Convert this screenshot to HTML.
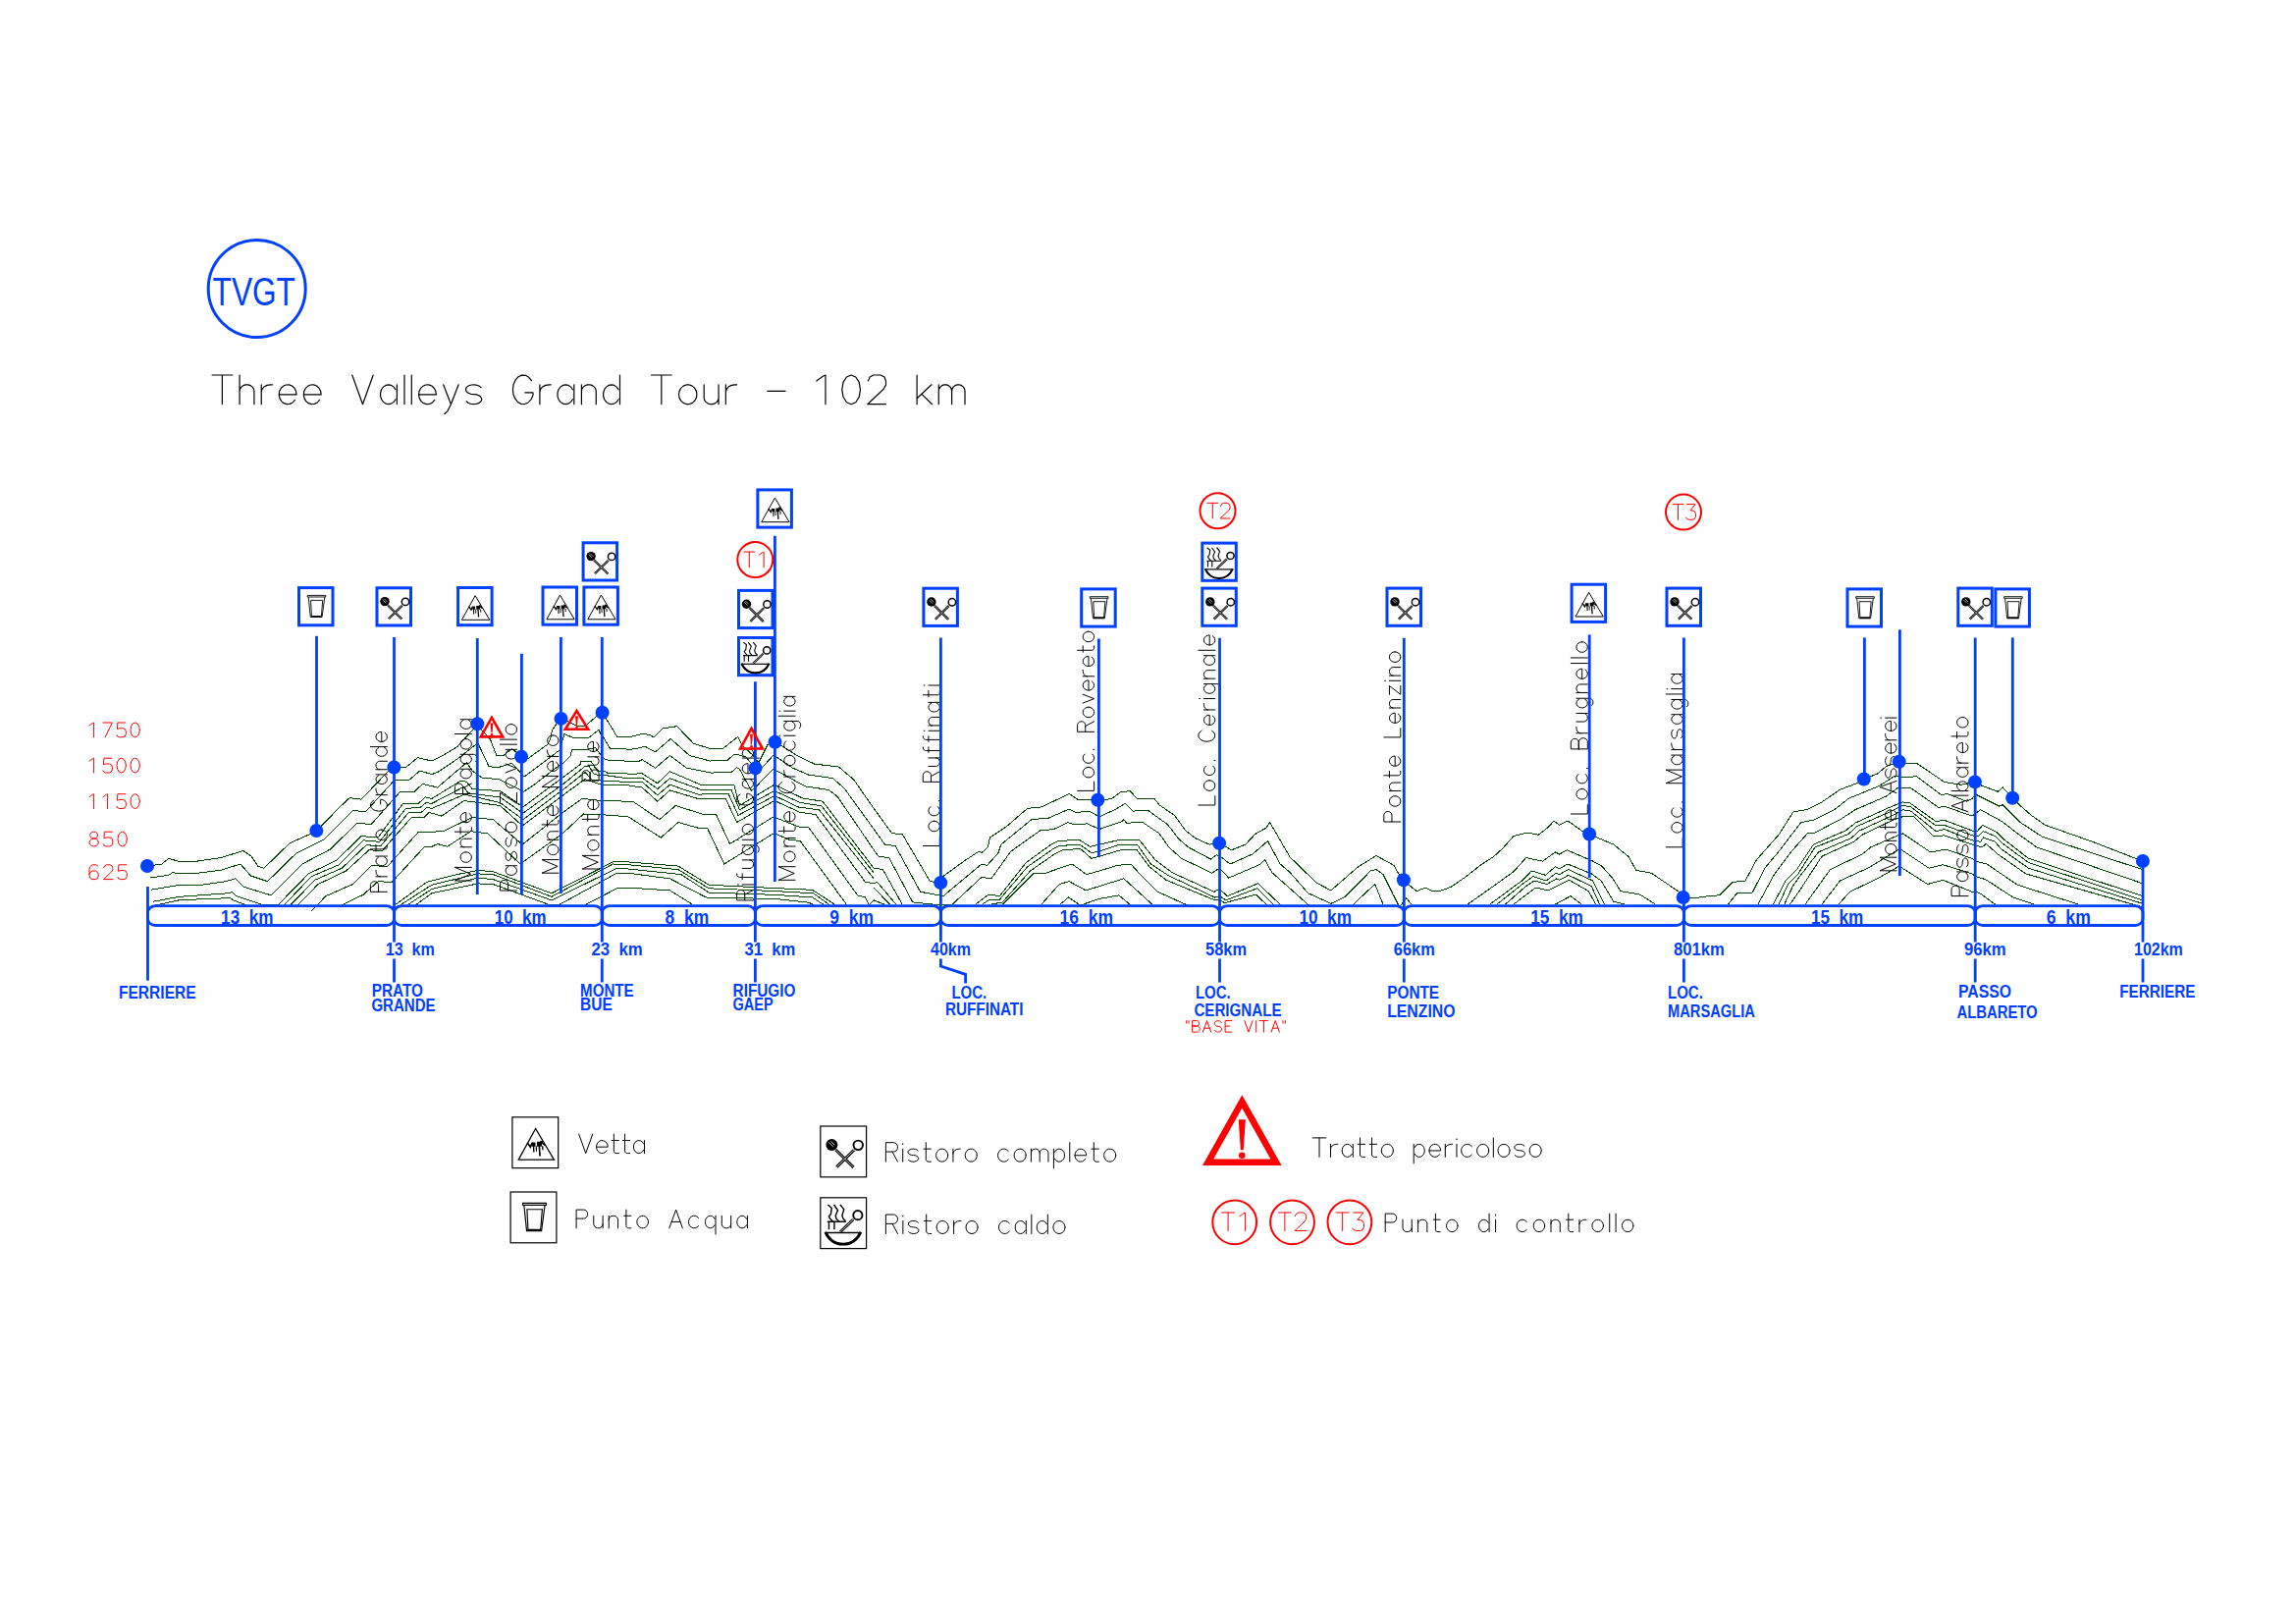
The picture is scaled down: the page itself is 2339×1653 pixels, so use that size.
<!DOCTYPE html><html><head><meta charset="utf-8"><style>html,body{margin:0;padding:0;background:#fff;}svg{display:block;}</style></head><body><svg width="2339" height="1653" viewBox="0 0 2339 1653">
<rect width="100%" height="100%" fill="#fff"/>
<g fill="none" stroke="#004600" stroke-width="1" stroke-linejoin="miter" shape-rendering="crispEdges">
<polyline points="156.3,922.5 182.5,916.8 213.7,915.4 234.2,914.7 237.8,916.8 250.5,921.8"/>
<polyline points="890,904.7 890.9,904.8 906.4,921.1"/>
<polyline points="1377.2,922.5 1400.6,900.5 1409.1,921.1"/>
<polyline points="1495.1,921.1 1519.2,904.1 1541.9,887.8 1554.6,873.6 1571.6,877.1 1584.4,867.9 1588.6,870 1596.4,865.8 1621.2,876.4 1631.1,881.4 1642.5,894.1 1651,907.6 1670.8,911.1 1686.4,921.1"/>
<polyline points="1517.8,921.1 1550.4,897 1560.3,887 1574.5,891.3 1584.4,882.8 1588.6,884.9 1597.1,880 1621.2,889.9 1631.1,897 1643.9,918.2 1655.2,921.1"/>
<polyline points="1524.9,921.1 1551.8,899.8 1561.7,892.7 1575.2,897 1585.1,889.2 1588.6,890.6 1597.8,885.6 1622.6,897 1634.7,921.1"/>
<polyline points="1533.4,921.1 1554.6,902.6 1563.1,897 1575.9,900.5 1585.8,894.8 1588.6,896.3 1597.8,891.3 1621.2,902.6 1629.7,921.1"/>
<polyline points="1541.9,921.1 1564.5,904.1 1577.3,906.9 1588.6,901.2 1598.5,896.3 1618.4,907.6 1625.5,921.1"/>
<polyline points="1584.4,921.1 1600,912.6 1611.3,921.1"/>
<polyline points="595.9,921.8 629.9,904.1 640,904.1 682.5,906.9 705.2,921.1"/>
<polyline points="993.6,921.1 1007,911.1 1018.4,912.6 1045.3,878.5 1070.8,860.1 1077.9,856.6 1099.2,855.2 1110.5,862.3 1120,860.1 1138.4,855.9 1161.1,855.9 1176.7,875.7 1193.7,888.5 1236.9,908.3 1242.1,905.5 1250.4,912.6 1281.5,899.8 1305.6,922.5"/>
<polyline points="1021.2,921.1 1052.4,889.9 1065.1,889.2 1092.1,880 1106.9,890.6 1120,887 1138.4,881.4 1151.9,880 1158.3,887 1179.5,908.3 1210.7,922.5"/>
<polyline points="402.2,921.8 434.7,898.4 440,897 465.5,890.6 486.8,886.4 502.4,887.8 561.9,909.8 624.3,877.9 640,877.9 691,882.1 722.2,901.3 790,904.6 827.5,906.3 850.9,921.5"/>
<polyline points="346.9,922.5 370.3,911.1 385.1,897.7 399.3,898.4 432.6,862.3 440,862.3 445.7,859.5 455.6,862.3 479.7,846.7 496.7,848.8 530,880 573.2,848.8 594.5,829 612.9,829.7 640,831.8 673.3,853.1 691,837.5 713.7,843.9 720.8,843.9 737.8,880 788.1,848.8 790,849.2 804.1,855.3 815.2,856.5 862.6,921.5"/>
<polyline points="1009.9,921.1 1021.2,918.9 1049.6,887 1075.1,869.3 1082.2,865.8 1100.6,864.4 1111.9,874.3 1120,872.2 1141.3,865.8 1158.3,865.8 1171,882.8 1188,896.3 1237.6,916.8 1242.1,916.1 1247.5,919.6 1279.4,911.1 1291.5,922.5"/>
<polyline points="414.9,921.8 440,905.5 486.8,894.2 502.4,895.6 561.9,916.9 628.5,884.3 640,885 693.9,890.6 722.2,909.1 790,911.4 827.5,913.9 839.2,921.5"/>
<polyline points="407.8,921.8 440,901.2 486.8,889.9 502.4,890.6 561.9,913.3 624.3,880 640,880.7 691,885.7 722.2,904.8 790,907.6 828.6,909.8 845,921.5"/>
<polyline points="1000.7,921.1 1007,916.8 1018.4,916.1 1046.7,882.8 1072.2,865.1 1079.3,861.5 1099.9,860.1 1111.9,868.6 1120,867.2 1138.4,860.8 1159,860.8 1172.4,880 1190.9,892 1237.6,914 1242.1,912.6 1248.9,916.8 1280.8,904.8 1298.5,922.5"/>
<polyline points="1060.9,921.1 1079.3,900.5 1089.2,897.7 1106.2,906.9 1120,902.6 1144.8,894.8 1173.8,921.1"/>
<polyline points="295.9,921.8 320.7,896.3 348.3,884.2 373.1,860.8 388,861.5 416.3,827.5 429.1,827.5 434.7,822.6 440,823.3 473.3,809.1 509.5,817.6 532.8,834.7 574.7,803.5 596,786.5 603.2,794.3 619.8,795.4 640,796.5 654.2,796.4 669.8,809.9 682.5,799.2 710.9,809.1 742.1,808.4 752,830.4 788.8,810.6 790,810.9 813.4,822 834.5,824.9 890,894.6"/>
<polyline points="1873,921.1 1884.4,908.3 1912.7,894.8 1934.7,882.1 1963.7,900.5 1979.3,896.3 2009.1,908.3 2012.7,908.3 2016.9,909.7 2032.5,921.1"/>
<polyline points="303,921.8 324.2,900.5 352.6,887 375.9,865.8 389.4,866.5 419.2,832.5 431.9,832.5 436.9,827.5 440,828.2 449.9,831.1 472.6,815.5 509.5,820.5 532.1,841 574.7,809.1 595.9,793.6 612.9,799.2 640,799.9 654.2,802.1 669.8,816.2 682.5,804.9 710.9,813.4 739.2,813.4 750.6,837.5 788.8,815.5 790,815.9 814.6,827.2 831,829.6 881.3,898.1 890,899.8 893.7,898.4 912.8,921.1"/>
<polyline points="289.5,921.8 317.1,892.7 345.5,880.7 370.3,855.9 386.6,857.3 413.5,823.3 427.7,822.6 434,817.6 440,818.3 472.6,801.3 476.9,807.7 509.5,812 532.8,828.3 574.7,797.8 596,780.4 599.9,780.4 605.4,788.8 618.7,789.9 634.3,792.1 640,792.6 654.2,792.1 669.8,803.5 682.5,792.8 713.7,804.2 744.9,804.2 753.4,824.7 788.8,805.6 790,805.9 814.6,817.3 836.8,820.8 890,888.7"/>
<polyline points="152.8,894.1 171.9,891.3 176.1,888.5 178.3,889.2 201.6,889.2 225,886.3 244.9,880 255.5,892 272.5,897.7 301.5,869.3 329.9,855.2 359.6,825.4 372.4,826.8 402.2,794.2 417,794.2 427.7,785 440,788.6 445.7,786.5 466.9,772.3 486.8,756.7 498.1,780.8 508,781.5 521.5,777.3 534.1,791 569.9,764.1 571.6,758.8 574.9,747.7 583.8,751.3 599.9,751.3 609.9,743.3 612.1,747.7 615.4,752.2 621.5,762.4 635.4,762.4 640,763.5 648.5,762.4 657,760.2 667.6,765.9 683.2,752.4 702.4,769.5 723.6,775.1 730,774.4 741.1,774.4 747.7,768.3 750,768.3 760,771 764.4,776.6 769.5,782.4 777.1,781 787.7,769.4 790,770.2 807.6,782.2 824,789.2 848.5,792.7 860.3,803.2 890,844.2 901.5,860.1 912.1,861.5 937.6,908.3 956.7,911.8 961,912.6 1000,880 1005.6,881.4 1017,868.6 1019.8,860.1 1051,834.6 1068,833.2 1089.2,824 1096.3,827.5 1109.1,826.1 1120,831.8 1135.6,824.7 1146.2,818.3 1154,826.1 1169.6,825.4 1182.3,834.6 1189.4,839.6 1200.8,854.5 1210.7,863 1233.4,875 1239,870.8 1242.1,871.5 1253.2,880 1275.9,870 1291.5,856.6 1304.2,880 1314.1,888.5 1332.6,909.7 1355.9,920.3 1369.4,914 1396.3,887 1402,885.6 1409.1,890.6 1420,912.6 1425.7,923.9 1432.8,914.7 1437.7,921.1"/>
<polyline points="1080,921.1 1088.5,914 1099.2,921.1 1103.4,921.1 1120,915.4 1139.8,911.8 1152.6,922.5"/>
<polyline points="1806.4,921.1 1819.2,897 1830.5,885.6 1847.5,860.1 1880.1,846 1890,838.2 1922.6,823.3 1938.2,816.9 1945.3,817.6 1972.2,836.7 1980.7,835.3 2009.1,846 2014.8,846 2019.8,840.3 2033.9,847.4 2041,854.5 2066.5,874.3 2182.7,912.6"/>
<polyline points="1812.1,921.1 1822,899.8 1831.9,889.9 1848.9,863 1883,849.5 1891.5,841.7 1925.5,826.8 1938.2,820.4 1946.7,821.9 1972.2,841 1980.7,840.3 2009.1,850.9 2015.5,851.6 2020.5,846.7 2032.5,851.6 2039.6,858.7 2066.5,878.5 2182.7,916.8"/>
<polyline points="423.4,921.8 440,909.7 486.8,899.9 502.4,900.6 560.5,921.8 569,921.8 628.5,889.2 640,889.2 682.5,894.9 719.4,914 790,915.5 824,919.2 828.6,921.5"/>
<polyline points="1856,921.1 1874.5,897 1904.2,883.5 1935.4,864.4 1965.1,884.2 1979.3,880.7 2009.1,889.9 2012.7,892.7 2022.6,895.6 2050.9,914 2072.2,921.1"/>
<polyline points="1790.9,921.1 1807.9,889.9 1824.9,867.2 1841.9,848.1 1848.9,848.1 1875.9,833.9 1890,824.7 1921.2,811.2 1934,802 1946.7,802.7 1975.1,822.6 1980.7,821.2 2009.1,831.1 2012.7,828.2 2017.6,824.7 2039.6,836.7 2055.2,848.8 2075,863 2182.7,899.8"/>
<polyline points="1839,921.1 1864.5,885.6 1897.1,870 1905.6,863 1938.2,848.8 1966.6,867.9 1982.2,865.1 2009.1,874.3 2012.7,877.1 2024,880 2055.2,901.2 2117.5,921.1"/>
<polyline points="1817.8,921.1 1826.3,902.6 1833.4,892.7 1852.5,867.9 1885.8,853.7 1894.3,846 1928.3,830.4 1938.2,824.7 1946.7,826.1 1972.2,846.7 1980.7,844.5 2009.1,855.9 2017.6,857.3 2020.5,853 2032.5,857.3 2038.2,864.4 2066.5,884.2 2182.7,920.3"/>
<polyline points="1760.4,921.1 1769.6,909.7 1785.2,909 1797.9,884.2 1812.1,867.2 1834.8,837.5 1847.5,835.3 1868.8,824.7 1883,813.4 1914.1,800.6 1929.7,790.7 1943.9,791.4 1952.4,790.7 1977.9,809.8 1983.6,808.4 2003.4,816.2 2009.1,813.4 2012.7,809.1 2036.8,821.2 2040.3,819.7 2058,837.5 2080.7,852.3 2182.7,885.6"/>
<polyline points="150.6,882.1 164.8,880 171.9,874.3 181.1,877.1 200.9,877.1 225,873.6 247.7,866.5 256.2,872.2 262.6,882.1 268.9,884.2 295.2,858.7 301.5,855.9 322.1,846.7 345.5,822.6 356.1,812.7 368.1,814.1 399.3,781.5 413.5,781.5 425.5,771.6 440,775.1 448.5,770.9 465.5,760.9 486.1,738.6 499.5,753.2 505.9,769.5 513,769.5 521.5,762.4 535.5,774.3 557.7,758.3 560.5,753.3 562.7,743.3 568.8,734.4 573.2,732.2 581,736.1 588.2,739.4 595.4,739.4 598.2,737.7 603.2,733.3 611.5,726.6 615.4,728.9 622.1,739.4 628.7,750.5 640,750.8 645.7,749.6 654.2,747.5 661.3,748.2 666.2,751 675.4,741.8 689.6,739.7 706.6,757.4 723.6,762.4 736.4,762.4 751.6,750.5 756.1,759.4 766.6,768.8 769.5,773.8 773.3,776 778.8,764.9 782.1,758.3 789.5,755.8 790,756.1 794.7,758.7 813.4,770.4 829.8,778.1 854.4,781 869.6,793.9 890,823.1 908.6,848.8 919.2,849.5 947.5,897.7 958.2,899.1 959.6,893.4 983,876.4 997.1,867.2 1000,868.6 1006.3,863 1008.5,853 1025.5,841.7 1046.7,823.3 1060.9,821.9 1082.2,811.9 1089.2,808.4 1097.7,814.1 1109.1,814.1 1117.6,815.5 1120,815.5 1132.8,813.4 1141.3,807 1151.2,805.6 1158.3,813.4 1176,813.4 1180.9,819.7 1196.5,830.4 1207.9,846 1217.8,853.7 1231.9,860.1 1242.1,858.7 1254.6,865.8 1268.8,860.1 1278.7,849.5 1290,843.1 1293.6,837.5 1314.1,872.9 1341.1,899.1 1355.9,906.9 1383.6,882.8 1402,871.5 1420,881.4 1428.5,896.3 1443.4,907.6 1451.9,904.1 1459.7,907.6 1466.8,907.6 1478.1,903.3 1493.7,892.7 1507.9,881.4 1522,872.2 1530.5,864.4 1541.9,851.6 1556,848.1 1567.4,850.2 1577.3,842.4 1583,836 1588.6,840.3 1597.1,836 1611.3,846 1619.1,849.5 1626.9,853 1643.9,860.1 1659.5,872.9 1666.6,886.3 1682.2,889.2 1710.5,908.3 1714.7,914 1720,914 1731.3,914 1741.3,912.6 1751.9,911.8 1765.3,898.4 1778.1,897 1789.4,875.7 1799.4,864.4 1812.1,850.2 1827,826.8 1840.4,824.7 1856,816.9 1874.5,804.2 1891.5,797.8 1898.8,793.5 1912.7,787.9 1921.2,780.8 1934.7,775.8 1942.5,777.9 1952.4,777.2 1980.7,796.4 1997.7,799.2 2011.9,796.4 2012.7,797.8 2035.3,806.3 2040.3,802 2050.2,812.7 2058,820.4 2069.4,830.4 2083.5,840.3 2131.7,857.3 2182.7,877.1"/>
<polyline points="317.1,928.1 332,912.6 359.6,900.5 378.8,881.4 394.4,882.8 426.2,847.4 440,847.4 452.8,846 481.1,832.5 502.4,834.7 532.1,860.2 573.2,827.6 593.1,813.4 612.9,815.5 640,816.2 645.7,816.9 671.9,834.7 688.2,820.5 715.1,829 729.3,829 743.5,859.5 788.1,831.8 790,832.8 813.4,841.9 824,843 874.3,912.7 881.3,913.3 885.4,921.5 890,916.8 900.8,921.1"/>
<polyline points="156.3,918.2 182.5,913.3 213.7,911.1 233.5,909.7 236.4,908.3 240.6,912.6 253.4,916.8 268.2,921.8 283.1,921.8 314.3,889.9 342.6,876.4 368.1,851.6 385.1,853 410.7,818.3 426.2,818.3 433.3,811.9 440,813.4 469.8,795 475.4,796.4 481.1,803.5 509.5,805.6 532.8,821.9 573,792.1 591.5,778.2 591.5,775.4 602.1,775.4 606.5,782.1 609.9,785.4 616.5,785.4 618.7,787.1 633.1,787.1 640,788.2 654.2,787.9 669.8,797.8 682.5,785.8 713.7,799.2 747.7,799.2 753.4,820.5 788.8,799.2 790,799.8 818.1,813.2 838,816.1 890,884 899.4,885.6 919.2,921.1"/>
<polyline points="1823.4,921.1 1833.4,906.9 1856,872.2 1888.6,857.3 1897.1,850.2 1929.7,834.6 1938.2,831.8 1949.6,831.8 1969.4,851.6 1980.7,850.9 2009.1,860.1 2019,863 2023.3,859.4 2035.3,870 2063.7,889.9 2182.7,923.9"/>
<polyline points="154.2,906.2 179.7,901.9 205.2,901.2 230,897.7 239.9,894.8 248.4,903.3 276,911.8 307.9,880 336.3,865.1 363.9,838.2 378.1,839.6 407.8,806.3 422,806.3 430.5,798.5 440,800.6 445.7,802.1 475.4,776.5 481.1,785 491,792.1 508,793.6 533.6,806.3 543.3,799.9 569.9,779.3 573.2,777.7 581,769.9 582.7,763.5 598.8,763.2 606.5,761.6 612.1,768.8 615.4,772.7 619.8,774.3 634.3,774.6 640,775.7 649.9,775.8 654.2,773.7 667.6,782.2 682.5,769.5 699.5,782.2 725,787.2 730,786.6 745,786.6 750.5,781.6 753.3,783.2 765.5,805.4 771,800.4 787.7,783.2 790,784.4 820.4,800.9 843.9,804.4 853.2,811.4 890,865.3 895.1,872.2 905.7,873.6 929.8,918.9 950.4,921.1 970.2,921.1 1000,893.4 1009.9,894.8 1029.7,867.2 1032.6,865.1 1059.5,846 1073.6,844.5 1087.8,837.5 1094.2,839.6 1107.7,838.9 1120,844.5 1142.7,836.7 1144.8,834.6 1147.6,838.2 1163.9,837.5 1180.9,848.8 1190.9,863 1203.6,874.3 1234.8,889.2 1242.1,884.2 1251.8,894.1 1283,880.7 1288.6,875.7 1295.7,888.5 1334,922.5"/>
</g>
<defs>
<symbol id="gW" overflow="visible"><g fill="none" stroke="#000" stroke-width="0.9"><path d="M10.2,9.3 H28.8 V10.9 H10.2 Z"/><path d="M11.2,10.9 L13.3,31.4 H25.1 L27.8,10.9"/><path d="M13.6,14.3 H25.7 L24.4,30.4 H14.4 Z"/><path d="M13.8,31 H24.8" stroke-width="1.3"/></g></symbol>
<symbol id="gR" overflow="visible"><g stroke="#000"><line x1="12.6" y1="19.2" x2="26.8" y2="33.2" stroke-width="2.3"/><line x1="27.2" y1="19.4" x2="13.4" y2="33" stroke-width="2.3"/><line x1="12.6" y1="19.2" x2="26.8" y2="33.2" stroke="#fff" stroke-width="0.6"/><line x1="27.2" y1="19.4" x2="13.4" y2="33" stroke="#fff" stroke-width="0.6"/><circle cx="9.5" cy="15.3" r="4.7" fill="#000" stroke="none"/><path d="M7.2,13.4 L10.6,16.8 M8.6,12.3 L11.8,15.5" stroke="#fff" stroke-width="0.6"/><circle cx="30.5" cy="15.6" r="3.7" fill="#fff" stroke-width="1.5"/></g></symbol>
<symbol id="gC" overflow="visible"><g fill="none" stroke="#000" stroke-width="1.1"><polyline points="6.3,6.1 9.4,8.6 8.8,13.5 7.2,15.4 8.2,17.2 10.3,19.4"/><polyline points="11.2,6.1 14.3,10.4 12.5,14.7 13.1,17.2 15.2,19.4"/><polyline points="16.2,6.1 19.2,9.8 17.7,14.7 18.6,17.2 20.5,19"/><path d="M6,19.6 H20.8 M7.2,19.6 V25.8 M11.5,19.6 V25.8"/><path d="M4.2,28.3 H32.8" stroke-width="1.2"/><path d="M4.4,27.8 Q9,37.6 18.5,37.4 Q28,37.6 32.6,27.8" stroke-width="2.2"/><line x1="26.6" y1="17.8" x2="16.2" y2="27.7" stroke-width="2.2"/><line x1="26.6" y1="17.8" x2="16.2" y2="27.7" stroke="#fff" stroke-width="0.6"/><circle cx="30.2" cy="14.4" r="3.6" fill="#fff" stroke-width="1.5"/></g></symbol>
<symbol id="gV" overflow="visible"><g stroke="#000" fill="none"><path d="M19,9.6 L5.4,34.3 H33.7 Z" stroke-width="1"/><polyline points="12.4,20.7 14.9,24.2 16.3,20.7" stroke-width="1.3"/><line x1="17.4" y1="23.5" x2="17.6" y2="28.4" stroke-width="1.1"/><line x1="19.5" y1="23.5" x2="19.7" y2="27.7" stroke-width="0.9"/><line x1="21.9" y1="23.5" x2="22.5" y2="31.5" stroke-width="1.3"/><line x1="24.5" y1="23.5" x2="24.7" y2="26.6" stroke-width="1"/><polyline points="24.8,21.2 26.4,22.8" stroke-width="1.4"/><path d="M16.2,20.5 H18.9 V23.8 H16.2 Z M20.1,20 H23.9 V23.8 H20.1 Z M22.5,19.1 L24.6,19.4 L25.2,21.5 L23.9,22 Z" fill="#000" stroke="none"/></g></symbol>
</defs>
<path transform="translate(394.4,908.3) rotate(-90)" d="M0.00,0.00 L0.00,-17.00 L6.80,-17.00 L6.80,-17.00 L8.08,-16.75 L9.20,-16.05 L10.04,-14.96 L10.48,-13.63 L10.48,-12.21 L10.04,-10.88 L9.20,-9.79 L8.08,-9.09 L6.80,-8.84 L0.00,-8.84 M15.48,-11.39 L15.48,0.00 M15.48,-7.14 L15.90,-8.77 L17.08,-10.15 L18.84,-11.07 L20.92,-11.39 L21.94,-11.39 M35.43,-8.54 L34.37,-10.06 L32.94,-11.05 L31.31,-11.39 L29.68,-11.05 L28.25,-10.06 L27.19,-8.54 L26.62,-6.68 L26.62,-4.71 L27.19,-2.85 L28.25,-1.33 L29.68,-0.34 L31.31,-0.00 L32.94,-0.34 L34.37,-1.33 L35.43,-2.85 M36.24,-11.39 L36.24,0.00 M43.39,-17.00 L43.39,-2.04 L43.39,-2.04 L43.57,-1.26 L44.09,-0.60 L44.86,-0.16 L45.77,-0.00 L47.81,0.00 M41.35,-11.39 L47.81,-11.39 M63.30,-5.70 L62.98,-7.64 L62.06,-9.36 L60.66,-10.63 L58.94,-11.30 L57.11,-11.30 L55.39,-10.63 L53.99,-9.36 L53.07,-7.64 L52.76,-5.70 L53.07,-3.75 L53.99,-2.03 L55.39,-0.76 L57.11,-0.09 L58.94,-0.09 L60.66,-0.76 L62.06,-2.03 L62.98,-3.75 L63.30,-5.69 M93.12,-13.73 L91.54,-15.71 L89.57,-16.81 L87.45,-16.92 L85.43,-16.01 L83.75,-14.19 L82.63,-11.68 L82.18,-8.80 L82.48,-5.87 L83.48,-3.27 L85.06,-1.29 L87.03,-0.19 L89.15,-0.08 L91.17,-0.99 L92.85,-2.81 L93.97,-5.32 L93.91,-6.80 L89.32,-6.80 M98.68,-11.39 L98.68,0.00 M98.68,-7.14 L99.10,-8.77 L100.28,-10.15 L102.04,-11.07 L104.12,-11.39 L105.14,-11.39 M118.63,-8.54 L117.57,-10.06 L116.14,-11.05 L114.51,-11.39 L112.88,-11.05 L111.45,-10.06 L110.39,-8.54 L109.82,-6.68 L109.82,-4.71 L110.39,-2.85 L111.45,-1.33 L112.88,-0.34 L114.51,-0.00 L116.14,-0.34 L117.57,-1.33 L118.63,-2.85 M119.44,-11.39 L119.44,0.00 M124.55,-11.39 L124.55,0.00 M124.55,-7.65 L124.81,-8.93 L125.55,-10.05 L126.68,-10.89 L128.06,-11.33 L129.54,-11.33 L130.93,-10.89 L132.06,-10.05 L132.80,-8.93 L133.05,-7.65 L133.05,0.00 M146.88,-8.54 L145.82,-10.06 L144.38,-11.05 L142.76,-11.39 L141.13,-11.05 L139.70,-10.06 L138.63,-8.54 L138.07,-6.68 L138.07,-4.71 L138.63,-2.85 L139.70,-1.33 L141.13,-0.34 L142.76,-0.00 L144.38,-0.34 L145.82,-1.33 L146.88,-2.85 M147.69,-17.00 L147.69,0.00 M152.80,-5.61 L163.00,-5.61 L163.00,-5.70 L162.68,-7.67 L161.77,-9.40 L160.38,-10.67 L158.68,-11.32 L156.88,-11.27 L155.21,-10.53 L153.87,-9.19 L153.04,-7.41 L152.81,-5.42 L153.21,-3.46 L154.20,-1.78 L155.64,-0.59 L157.37,-0.03 L159.17,-0.18 L160.80,-1.01 L162.08,-2.43" fill="none" stroke="#000" stroke-width="1.0" stroke-linecap="round" stroke-linejoin="round"/>
<path transform="translate(480.4,897.0) rotate(-90)" d="M0.00,0.00 L0.00,-17.00 L6.80,-0.85 L13.60,-17.00 L13.60,0.00 M29.19,-5.70 L28.87,-7.64 L27.96,-9.36 L26.56,-10.63 L24.84,-11.30 L23.00,-11.30 L21.29,-10.63 L19.88,-9.36 L18.97,-7.64 L18.65,-5.70 L18.97,-3.75 L19.88,-2.03 L21.28,-0.76 L23.00,-0.09 L24.84,-0.09 L26.56,-0.76 L27.96,-2.03 L28.87,-3.75 L29.19,-5.69 M34.24,-11.39 L34.24,0.00 M34.24,-7.65 L34.50,-8.93 L35.23,-10.05 L36.37,-10.89 L37.75,-11.33 L39.23,-11.33 L40.62,-10.89 L41.75,-10.05 L42.48,-8.93 L42.74,-7.65 L42.74,0.00 M49.83,-17.00 L49.83,-2.04 L49.83,-2.04 L50.01,-1.26 L50.53,-0.60 L51.30,-0.16 L52.21,-0.00 L54.25,0.00 M47.79,-11.39 L54.25,-11.39 M59.30,-5.61 L69.50,-5.61 L69.50,-5.70 L69.18,-7.67 L68.27,-9.40 L66.88,-10.67 L65.18,-11.32 L63.38,-11.27 L61.71,-10.53 L60.37,-9.19 L59.54,-7.41 L59.31,-5.42 L59.71,-3.46 L60.70,-1.78 L62.14,-0.59 L63.87,-0.03 L65.67,-0.18 L67.30,-1.01 L68.58,-2.43 M88.49,0.00 L88.49,-17.00 L95.29,-17.00 L95.29,-17.00 L96.57,-16.75 L97.69,-16.05 L98.53,-14.96 L98.97,-13.63 L98.97,-12.21 L98.53,-10.88 L97.69,-9.79 L96.57,-9.09 L95.29,-8.84 L88.49,-8.84 M94.27,-8.84 L99.03,0.00 M112.96,-8.54 L111.90,-10.06 L110.47,-11.05 L108.84,-11.39 L107.21,-11.05 L105.78,-10.06 L104.72,-8.54 L104.15,-6.68 L104.15,-4.71 L104.72,-2.85 L105.78,-1.33 L107.21,-0.34 L108.84,-0.00 L110.47,-0.34 L111.90,-1.33 L112.96,-2.85 M113.77,-11.39 L113.77,0.00 M127.87,-8.54 L126.81,-10.06 L125.38,-11.05 L123.75,-11.39 L122.12,-11.05 L120.69,-10.06 L119.63,-8.54 L119.06,-6.68 L119.06,-4.71 L119.63,-2.85 L120.69,-1.33 L122.12,-0.34 L123.75,-0.00 L125.38,-0.34 L126.81,-1.33 L127.87,-2.85 M128.68,-11.39 L128.68,2.04 L128.68,2.04 L128.43,3.26 L127.73,4.33 L126.64,5.13 L125.31,5.56 L123.89,5.56 L122.56,5.13 L121.47,4.33 M144.44,-5.70 L144.12,-7.64 L143.21,-9.36 L141.81,-10.63 L140.09,-11.30 L138.25,-11.30 L136.53,-10.63 L135.13,-9.36 L134.22,-7.64 L133.90,-5.70 L134.22,-3.75 L135.13,-2.03 L136.53,-0.76 L138.25,-0.09 L140.09,-0.09 L141.81,-0.76 L143.21,-2.03 L144.12,-3.75 L144.44,-5.69 M149.49,-17.00 L149.49,0.00 M163.42,-8.54 L162.36,-10.06 L160.93,-11.05 L159.30,-11.39 L157.67,-11.05 L156.24,-10.06 L155.18,-8.54 L154.61,-6.68 L154.61,-4.71 L155.18,-2.85 L156.24,-1.33 L157.67,-0.34 L159.30,-0.00 L160.93,-0.34 L162.36,-1.33 L163.42,-2.85 M164.23,-11.39 L164.23,0.00" fill="none" stroke="#000" stroke-width="1.0" stroke-linecap="round" stroke-linejoin="round"/>
<path transform="translate(526.5,907.0) rotate(-90)" d="M0.00,0.00 L0.00,-17.00 L6.80,-17.00 L6.80,-17.00 L8.08,-16.75 L9.20,-16.05 L10.04,-14.96 L10.48,-13.63 L10.48,-12.21 L10.04,-10.88 L9.20,-9.79 L8.08,-9.09 L6.80,-8.84 L0.00,-8.84 M24.44,-8.54 L23.37,-10.06 L21.94,-11.05 L20.31,-11.39 L18.69,-11.05 L17.25,-10.06 L16.19,-8.54 L15.63,-6.68 L15.63,-4.71 L16.19,-2.85 L17.25,-1.33 L18.69,-0.34 L20.31,-0.00 L21.94,-0.34 L23.37,-1.33 L24.44,-2.85 M25.24,-11.39 L25.24,0.00 M39.34,-9.77 L38.39,-10.58 L37.02,-11.14 L35.41,-11.38 L33.76,-11.27 L32.29,-10.82 L31.16,-10.09 L30.53,-9.17 L30.48,-8.18 L31.01,-7.24 L32.05,-6.46 L33.47,-5.96 L35.10,-5.78 L35.10,-5.78 L36.73,-5.60 L38.16,-5.08 L39.20,-4.28 L39.73,-3.31 L39.68,-2.29 L39.05,-1.34 L37.92,-0.58 L36.44,-0.12 L34.80,-0.01 L33.19,-0.25 L31.82,-0.83 L30.87,-1.67 M53.71,-9.77 L52.75,-10.58 L51.38,-11.14 L49.77,-11.38 L48.13,-11.27 L46.65,-10.82 L45.53,-10.09 L44.90,-9.17 L44.84,-8.18 L45.37,-7.24 L46.41,-6.46 L47.84,-5.96 L49.47,-5.78 L49.47,-5.78 L51.10,-5.60 L52.53,-5.08 L53.57,-4.28 L54.09,-3.31 L54.04,-2.29 L53.41,-1.34 L52.29,-0.58 L50.81,-0.12 L49.16,-0.01 L47.55,-0.25 L46.19,-0.83 L45.23,-1.67 M69.70,-5.70 L69.38,-7.64 L68.47,-9.36 L67.06,-10.63 L65.34,-11.30 L63.51,-11.30 L61.79,-10.63 L60.39,-9.36 L59.48,-7.64 L59.16,-5.70 L59.48,-3.75 L60.39,-2.03 L61.79,-0.76 L63.51,-0.09 L65.34,-0.09 L67.06,-0.76 L68.47,-2.03 L69.38,-3.75 L69.70,-5.69 M88.65,-17.00 L99.53,-17.00 L88.65,0.00 L99.53,0.00 M115.09,-5.70 L114.77,-7.64 L113.85,-9.36 L112.45,-10.63 L110.73,-11.30 L108.90,-11.30 L107.18,-10.63 L105.78,-9.36 L104.87,-7.64 L104.55,-5.70 L104.87,-3.75 L105.78,-2.03 L107.18,-0.76 L108.90,-0.09 L110.73,-0.09 L112.45,-0.76 L113.85,-2.03 L114.77,-3.75 L115.09,-5.69 M120.10,-11.39 L124.52,0.00 L128.94,-11.39 M142.84,-8.54 L141.78,-10.06 L140.34,-11.05 L138.72,-11.39 L137.09,-11.05 L135.66,-10.06 L134.59,-8.54 L134.03,-6.68 L134.03,-4.71 L134.59,-2.85 L135.66,-1.33 L137.09,-0.34 L138.72,-0.00 L140.34,-0.34 L141.78,-1.33 L142.84,-2.85 M143.65,-11.39 L143.65,0.00 M148.83,-17.00 L148.83,0.00 M153.85,-17.00 L153.85,0.00 M169.40,-5.70 L169.08,-7.64 L168.17,-9.36 L166.76,-10.63 L165.05,-11.30 L163.21,-11.30 L161.49,-10.63 L160.09,-9.36 L159.18,-7.64 L158.86,-5.70 L159.18,-3.75 L160.09,-2.03 L161.49,-0.76 L163.21,-0.09 L165.05,-0.09 L166.76,-0.76 L168.17,-2.03 L169.08,-3.75 L169.40,-5.69" fill="none" stroke="#000" stroke-width="1.0" stroke-linecap="round" stroke-linejoin="round"/>
<path transform="translate(569.0,889.2) rotate(-90)" d="M0.00,0.00 L0.00,-17.00 L6.80,-0.85 L13.60,-17.00 L13.60,0.00 M29.01,-5.70 L28.69,-7.64 L27.78,-9.36 L26.38,-10.63 L24.66,-11.30 L22.83,-11.30 L21.11,-10.63 L19.71,-9.36 L18.79,-7.64 L18.47,-5.70 L18.79,-3.75 L19.71,-2.03 L21.11,-0.76 L22.83,-0.09 L24.66,-0.09 L26.38,-0.76 L27.78,-2.03 L28.69,-3.75 L29.01,-5.69 M33.89,-11.39 L33.89,0.00 M33.89,-7.65 L34.14,-8.93 L34.88,-10.05 L36.01,-10.89 L37.40,-11.33 L38.87,-11.33 L40.26,-10.89 L41.39,-10.05 L42.13,-8.93 L42.39,-7.65 L42.39,0.00 M49.30,-17.00 L49.30,-2.04 L49.30,-2.04 L49.48,-1.26 L49.99,-0.60 L50.77,-0.16 L51.68,-0.00 L53.72,0.00 M47.26,-11.39 L53.72,-11.39 M58.59,-5.61 L68.79,-5.61 L68.79,-5.70 L68.47,-7.67 L67.56,-9.40 L66.17,-10.67 L64.47,-11.32 L62.67,-11.27 L61.00,-10.53 L59.66,-9.19 L58.83,-7.41 L58.60,-5.42 L59.00,-3.46 L59.99,-1.78 L61.43,-0.59 L63.16,-0.03 L64.96,-0.18 L66.59,-1.01 L67.87,-2.43 M87.60,0.00 L87.60,-17.00 L98.82,0.00 L98.82,-17.00 M103.70,-5.61 L113.90,-5.61 L113.90,-5.70 L113.58,-7.67 L112.67,-9.40 L111.27,-10.67 L109.57,-11.32 L107.77,-11.27 L106.10,-10.53 L104.77,-9.19 L103.93,-7.41 L103.70,-5.42 L104.10,-3.46 L105.09,-1.78 L106.54,-0.59 L108.27,-0.03 L110.06,-0.18 L111.70,-1.01 L112.97,-2.43 M118.77,-11.39 L118.77,0.00 M118.77,-7.14 L119.18,-8.77 L120.36,-10.15 L122.13,-11.07 L124.21,-11.39 L125.23,-11.39 M140.30,-5.70 L139.98,-7.64 L139.07,-9.36 L137.67,-10.63 L135.95,-11.30 L134.11,-11.30 L132.40,-10.63 L130.99,-9.36 L130.08,-7.64 L129.76,-5.70 L130.08,-3.75 L130.99,-2.03 L132.40,-0.76 L134.11,-0.09 L135.95,-0.09 L137.67,-0.76 L139.07,-2.03 L139.98,-3.75 L140.30,-5.69" fill="none" stroke="#000" stroke-width="1.0" stroke-linecap="round" stroke-linejoin="round"/>
<path transform="translate(610.1,885.0) rotate(-90)" d="M0.00,0.00 L0.00,-17.00 L6.80,-0.85 L13.60,-17.00 L13.60,0.00 M29.46,-5.70 L29.14,-7.64 L28.22,-9.36 L26.82,-10.63 L25.10,-11.30 L23.27,-11.30 L21.55,-10.63 L20.15,-9.36 L19.23,-7.64 L18.92,-5.70 L19.23,-3.75 L20.15,-2.03 L21.55,-0.76 L23.27,-0.09 L25.10,-0.09 L26.82,-0.76 L28.22,-2.03 L29.14,-3.75 L29.46,-5.69 M34.77,-11.39 L34.77,0.00 M34.77,-7.65 L35.03,-8.93 L35.77,-10.05 L36.90,-10.89 L38.29,-11.33 L39.76,-11.33 L41.15,-10.89 L42.28,-10.05 L43.02,-8.93 L43.27,-7.65 L43.27,0.00 M50.63,-17.00 L50.63,-2.04 L50.63,-2.04 L50.81,-1.26 L51.33,-0.60 L52.10,-0.16 L53.01,-0.00 L55.05,0.00 M48.59,-11.39 L55.05,-11.39 M60.37,-5.61 L70.57,-5.61 L70.57,-5.70 L70.25,-7.67 L69.34,-9.40 L67.95,-10.67 L66.24,-11.32 L64.45,-11.27 L62.78,-10.53 L61.44,-9.19 L60.60,-7.41 L60.37,-5.42 L60.78,-3.46 L61.77,-1.78 L63.21,-0.59 L64.94,-0.03 L66.73,-0.18 L68.37,-1.01 L69.65,-2.43 M89.83,-9.01 L89.83,-17.00 L96.63,-17.00 L96.63,-17.00 L97.90,-16.76 L99.03,-16.07 L99.86,-15.00 L100.31,-13.70 L100.31,-12.31 L99.86,-11.01 L99.03,-9.94 L97.90,-9.25 L96.63,-9.01 L89.83,-9.01 M89.83,-9.01 L96.97,-9.01 L96.97,-9.01 L98.36,-8.74 L99.59,-7.96 L100.50,-6.76 L100.98,-5.29 L100.98,-3.72 L100.50,-2.25 L99.59,-1.05 L98.36,-0.27 L96.97,-0.00 L89.83,0.00 L89.83,-9.01 M105.68,-11.39 L105.68,-3.74 L105.94,-2.46 L106.68,-1.34 L107.81,-0.50 L109.19,-0.06 L110.67,-0.06 L112.06,-0.50 L113.19,-1.34 L113.93,-2.46 L114.18,-3.74 M114.18,-11.39 L114.18,0.00 M119.50,-5.61 L129.70,-5.61 L129.70,-5.70 L129.38,-7.67 L128.47,-9.40 L127.08,-10.67 L125.38,-11.32 L123.58,-11.27 L121.91,-10.53 L120.57,-9.19 L119.74,-7.41 L119.51,-5.42 L119.91,-3.46 L120.90,-1.78 L122.34,-0.59 L124.07,-0.03 L125.87,-0.18 L127.50,-1.01 L128.78,-2.43" fill="none" stroke="#000" stroke-width="1.0" stroke-linecap="round" stroke-linejoin="round"/>
<path transform="translate(767.6,916.9) rotate(-90)" d="M0.00,0.00 L0.00,-17.00 L6.80,-17.00 L6.80,-17.00 L8.08,-16.75 L9.20,-16.05 L10.04,-14.96 L10.48,-13.63 L10.48,-12.21 L10.04,-10.88 L9.20,-9.79 L8.08,-9.09 L6.80,-8.84 L0.00,-8.84 M5.78,-8.84 L10.54,0.00 M15.93,-11.39 L15.93,0.00 M15.93,-16.15 L15.93,-15.30 M23.35,0.00 L23.35,-13.94 L23.35,-13.94 L23.54,-14.99 L24.07,-15.91 L24.88,-16.59 L25.88,-16.95 L26.94,-16.95 M21.31,-11.39 L27.09,-11.39 M32.48,-11.39 L32.48,-3.74 L32.73,-2.46 L33.47,-1.34 L34.60,-0.50 L35.99,-0.06 L37.47,-0.06 L38.85,-0.50 L39.98,-1.34 L40.72,-2.46 L40.98,-3.74 M40.98,-11.39 L40.98,0.00 M55.25,-8.54 L54.18,-10.06 L52.75,-11.05 L51.12,-11.39 L49.50,-11.05 L48.06,-10.06 L47.00,-8.54 L46.44,-6.68 L46.44,-4.71 L47.00,-2.85 L48.06,-1.33 L49.50,-0.34 L51.12,-0.00 L52.75,-0.34 L54.18,-1.33 L55.25,-2.85 M56.05,-11.39 L56.05,2.04 L56.05,2.04 L55.81,3.26 L55.10,4.33 L54.01,5.13 L52.68,5.56 L51.27,5.56 L49.93,5.13 L48.85,4.33 M61.61,-11.39 L61.61,0.00 M61.61,-16.15 L61.61,-15.30 M77.54,-5.70 L77.22,-7.64 L76.30,-9.36 L74.90,-10.63 L73.18,-11.30 L71.35,-11.30 L69.63,-10.63 L68.23,-9.36 L67.31,-7.64 L67.00,-5.70 L67.31,-3.75 L68.23,-2.03 L69.63,-0.76 L71.35,-0.09 L73.18,-0.09 L74.90,-0.76 L76.30,-2.03 L77.22,-3.75 L77.54,-5.69 M107.80,-13.73 L106.23,-15.71 L104.25,-16.81 L102.13,-16.92 L100.11,-16.01 L98.43,-14.19 L97.31,-11.68 L96.87,-8.80 L97.16,-5.87 L98.16,-3.27 L99.74,-1.29 L101.71,-0.19 L103.83,-0.08 L105.86,-0.99 L107.53,-2.81 L108.66,-5.32 L108.59,-6.80 L104.00,-6.80 M122.69,-8.54 L121.63,-10.06 L120.20,-11.05 L118.57,-11.39 L116.94,-11.05 L115.51,-10.06 L114.45,-8.54 L113.88,-6.68 L113.88,-4.71 L114.45,-2.85 L115.51,-1.33 L116.94,-0.34 L118.57,-0.00 L120.20,-0.34 L121.63,-1.33 L122.69,-2.85 M123.50,-11.39 L123.50,0.00 M129.05,-5.61 L139.25,-5.61 L139.25,-5.70 L138.94,-7.67 L138.02,-9.40 L136.63,-10.67 L134.93,-11.32 L133.13,-11.27 L131.46,-10.53 L130.12,-9.19 L129.29,-7.41 L129.06,-5.42 L129.46,-3.46 L130.45,-1.78 L131.90,-0.59 L133.63,-0.03 L135.42,-0.18 L137.06,-1.01 L138.33,-2.43 M145.62,-8.54 L146.68,-10.06 L148.11,-11.05 L149.74,-11.39 L151.37,-11.05 L152.80,-10.06 L153.86,-8.54 L154.43,-6.68 L154.43,-4.71 L153.86,-2.85 L152.80,-1.33 L151.37,-0.34 L149.74,-0.00 L148.11,-0.34 L146.68,-1.33 L145.62,-2.85 M144.81,-11.39 L144.81,5.61" fill="none" stroke="#000" stroke-width="1.0" stroke-linecap="round" stroke-linejoin="round"/>
<path transform="translate(810.1,896.3) rotate(-90)" d="M0.00,0.00 L0.00,-17.00 L6.80,-0.85 L13.60,-17.00 L13.60,0.00 M29.22,-5.70 L28.90,-7.64 L27.99,-9.36 L26.59,-10.63 L24.87,-11.30 L23.04,-11.30 L21.32,-10.63 L19.91,-9.36 L19.00,-7.64 L18.68,-5.70 L19.00,-3.75 L19.91,-2.03 L21.32,-0.76 L23.04,-0.09 L24.87,-0.09 L26.59,-0.76 L27.99,-2.03 L28.90,-3.75 L29.22,-5.69 M34.30,-11.39 L34.30,0.00 M34.30,-7.65 L34.56,-8.93 L35.30,-10.05 L36.43,-10.89 L37.82,-11.33 L39.29,-11.33 L40.68,-10.89 L41.81,-10.05 L42.55,-8.93 L42.80,-7.65 L42.80,0.00 M49.92,-17.00 L49.92,-2.04 L49.92,-2.04 L50.11,-1.26 L50.62,-0.60 L51.39,-0.16 L52.30,-0.00 L54.34,0.00 M47.88,-11.39 L54.34,-11.39 M59.43,-5.61 L69.63,-5.61 L69.63,-5.70 L69.31,-7.67 L68.40,-9.40 L67.00,-10.67 L65.30,-11.32 L63.50,-11.27 L61.83,-10.53 L60.50,-9.19 L59.66,-7.41 L59.43,-5.42 L59.84,-3.46 L60.82,-1.78 L62.27,-0.59 L64.00,-0.03 L65.79,-0.18 L67.43,-1.01 L68.70,-2.43 M99.59,-13.73 L97.98,-15.73 L95.98,-16.83 L93.83,-16.90 L91.79,-15.92 L90.12,-14.03 L89.03,-11.45 L88.65,-8.50 L89.03,-5.55 L90.12,-2.97 L91.79,-1.08 L93.83,-0.10 L95.98,-0.17 L97.98,-1.27 L99.59,-3.27 M105.29,-11.39 L105.29,0.00 M105.29,-7.14 L105.70,-8.77 L106.88,-10.15 L108.65,-11.07 L110.73,-11.39 L111.75,-11.39 M127.03,-5.70 L126.71,-7.64 L125.80,-9.36 L124.40,-10.63 L122.68,-11.30 L120.85,-11.30 L119.13,-10.63 L117.72,-9.36 L116.81,-7.64 L116.49,-5.70 L116.81,-3.75 L117.72,-2.03 L119.13,-0.76 L120.85,-0.09 L122.68,-0.09 L124.40,-0.76 L125.80,-2.03 L126.71,-3.75 L127.03,-5.69 M141.42,-9.36 L140.02,-10.63 L138.30,-11.30 L136.47,-11.30 L134.75,-10.63 L133.35,-9.36 L132.43,-7.64 L132.11,-5.70 L132.43,-3.75 L133.35,-2.03 L134.75,-0.76 L136.47,-0.09 L138.30,-0.09 L140.02,-0.76 L141.42,-2.03 M147.05,-11.39 L147.05,0.00 M147.05,-16.15 L147.05,-15.30 M161.02,-8.54 L159.96,-10.06 L158.52,-11.05 L156.90,-11.39 L155.27,-11.05 L153.84,-10.06 L152.77,-8.54 L152.21,-6.68 L152.21,-4.71 L152.77,-2.85 L153.84,-1.33 L155.27,-0.34 L156.90,-0.00 L158.52,-0.34 L159.96,-1.33 L161.02,-2.85 M161.83,-11.39 L161.83,2.04 L161.83,2.04 L161.58,3.26 L160.87,4.33 L159.79,5.13 L158.45,5.56 L157.04,5.56 L155.71,5.13 L154.62,4.33 M167.08,-17.00 L167.08,0.00 M172.16,-11.39 L172.16,0.00 M172.16,-16.15 L172.16,-15.30 M186.12,-8.54 L185.06,-10.06 L183.63,-11.05 L182.00,-11.39 L180.37,-11.05 L178.94,-10.06 L177.88,-8.54 L177.31,-6.68 L177.31,-4.71 L177.88,-2.85 L178.94,-1.33 L180.37,-0.34 L182.00,-0.00 L183.63,-0.34 L185.06,-1.33 L186.12,-2.85 M186.93,-11.39 L186.93,0.00" fill="none" stroke="#000" stroke-width="1.0" stroke-linecap="round" stroke-linejoin="round"/>
<path transform="translate(957.3,861.5) rotate(-90)" d="M0.00,-17.00 L0.00,0.00 L9.35,0.00 M25.26,-5.70 L24.94,-7.64 L24.02,-9.36 L22.62,-10.63 L20.90,-11.30 L19.07,-11.30 L17.35,-10.63 L15.95,-9.36 L15.03,-7.64 L14.72,-5.70 L15.03,-3.75 L15.95,-2.03 L17.35,-0.76 L19.07,-0.09 L20.90,-0.09 L22.62,-0.76 L24.02,-2.03 L24.94,-3.75 L25.26,-5.69 M39.93,-9.36 L38.53,-10.63 L36.81,-11.30 L34.98,-11.30 L33.26,-10.63 L31.85,-9.36 L30.94,-7.64 L30.62,-5.70 L30.94,-3.75 L31.85,-2.03 L33.26,-0.76 L34.98,-0.09 L36.81,-0.09 L38.53,-0.76 L39.93,-2.03 M45.85,0.00 L45.85,-0.85 M65.15,0.00 L65.15,-17.00 L71.95,-17.00 L71.95,-17.00 L73.23,-16.75 L74.36,-16.05 L75.19,-14.96 L75.64,-13.63 L75.64,-12.21 L75.19,-10.88 L74.36,-9.79 L73.23,-9.09 L71.95,-8.84 L65.15,-8.84 M70.93,-8.84 L75.69,0.00 M81.06,-11.39 L81.06,-3.74 L81.32,-2.46 L82.05,-1.34 L83.18,-0.50 L84.57,-0.06 L86.05,-0.06 L87.43,-0.50 L88.56,-1.34 L89.30,-2.46 L89.56,-3.74 M89.56,-11.39 L89.56,0.00 M96.96,0.00 L96.96,-13.94 L96.96,-13.94 L97.15,-14.99 L97.68,-15.91 L98.49,-16.59 L99.49,-16.95 L100.56,-16.95 M94.92,-11.39 L100.70,-11.39 M108.11,0.00 L108.11,-13.94 L108.11,-13.94 L108.30,-14.99 L108.83,-15.91 L109.64,-16.59 L110.64,-16.95 L111.70,-16.95 M106.07,-11.39 L111.85,-11.39 M117.22,-11.39 L117.22,0.00 M117.22,-16.15 L117.22,-15.30 M122.58,-11.39 L122.58,0.00 M122.58,-7.65 L122.84,-8.93 L123.58,-10.05 L124.71,-10.89 L126.09,-11.33 L127.57,-11.33 L128.96,-10.89 L130.09,-10.05 L130.83,-8.93 L131.08,-7.65 L131.08,0.00 M145.33,-8.54 L144.27,-10.06 L142.84,-11.05 L141.21,-11.39 L139.58,-11.05 L138.15,-10.06 L137.09,-8.54 L136.52,-6.68 L136.52,-4.71 L137.09,-2.85 L138.15,-1.33 L139.58,-0.34 L141.21,-0.00 L142.84,-0.34 L144.27,-1.33 L145.33,-2.85 M146.14,-11.39 L146.14,0.00 M153.71,-17.00 L153.71,-2.04 L153.71,-2.04 L153.90,-1.26 L154.41,-0.60 L155.18,-0.16 L156.09,-0.00 L158.13,0.00 M151.67,-11.39 L158.13,-11.39 M163.50,-11.39 L163.50,0.00 M163.50,-16.15 L163.50,-15.30" fill="none" stroke="#000" stroke-width="1.0" stroke-linecap="round" stroke-linejoin="round"/>
<path transform="translate(1114.6,805.4) rotate(-90)" d="M0.00,-17.00 L0.00,0.00 L9.35,0.00 M23.99,-5.70 L23.67,-7.64 L22.75,-9.36 L21.35,-10.63 L19.63,-11.30 L17.80,-11.30 L16.08,-10.63 L14.68,-9.36 L13.77,-7.64 L13.45,-5.70 L13.77,-3.75 L14.68,-2.03 L16.08,-0.76 L17.80,-0.09 L19.63,-0.09 L21.35,-0.76 L22.75,-2.03 L23.67,-3.75 L23.99,-5.69 M37.39,-9.36 L35.99,-10.63 L34.27,-11.30 L32.44,-11.30 L30.72,-10.63 L29.32,-9.36 L28.40,-7.64 L28.08,-5.70 L28.40,-3.75 L29.32,-2.03 L30.72,-0.76 L32.44,-0.09 L34.27,-0.09 L35.99,-0.76 L37.39,-2.03 M42.04,0.00 L42.04,-0.85 M60.08,0.00 L60.08,-17.00 L66.88,-17.00 L66.88,-17.00 L68.16,-16.75 L69.28,-16.05 L70.12,-14.96 L70.56,-13.63 L70.56,-12.21 L70.12,-10.88 L69.28,-9.79 L68.16,-9.09 L66.88,-8.84 L60.08,-8.84 M65.86,-8.84 L70.62,0.00 M85.26,-5.70 L84.94,-7.64 L84.02,-9.36 L82.62,-10.63 L80.90,-11.30 L79.07,-11.30 L77.35,-10.63 L75.95,-9.36 L75.03,-7.64 L74.72,-5.70 L75.03,-3.75 L75.95,-2.03 L77.35,-0.76 L79.07,-0.09 L80.90,-0.09 L82.62,-0.76 L84.02,-2.03 L84.94,-3.75 L85.26,-5.69 M89.35,-11.39 L93.77,0.00 L98.19,-11.39 M102.29,-5.61 L112.49,-5.61 L112.49,-5.70 L112.17,-7.67 L111.26,-9.40 L109.87,-10.67 L108.17,-11.32 L106.37,-11.27 L104.70,-10.53 L103.36,-9.19 L102.53,-7.41 L102.30,-5.42 L102.70,-3.46 L103.69,-1.78 L105.14,-0.59 L106.86,-0.03 L108.66,-0.18 L110.29,-1.01 L111.57,-2.43 M116.59,-11.39 L116.59,0.00 M116.59,-7.14 L117.00,-8.77 L118.18,-10.15 L119.95,-11.07 L122.03,-11.39 L123.05,-11.39 M126.81,-5.61 L137.01,-5.61 L137.01,-5.70 L136.69,-7.67 L135.78,-9.40 L134.38,-10.67 L132.68,-11.32 L130.88,-11.27 L129.21,-10.53 L127.88,-9.19 L127.04,-7.41 L126.81,-5.42 L127.22,-3.46 L128.20,-1.78 L129.65,-0.59 L131.38,-0.03 L133.17,-0.18 L134.81,-1.01 L136.08,-2.43 M143.14,-17.00 L143.14,-2.04 L143.14,-2.04 L143.32,-1.26 L143.84,-0.60 L144.61,-0.16 L145.52,-0.00 L147.56,0.00 M141.10,-11.39 L147.56,-11.39 M162.20,-5.70 L161.88,-7.64 L160.97,-9.36 L159.56,-10.63 L157.85,-11.30 L156.01,-11.30 L154.29,-10.63 L152.89,-9.36 L151.98,-7.64 L151.66,-5.70 L151.98,-3.75 L152.89,-2.03 L154.29,-0.76 L156.01,-0.09 L157.85,-0.09 L159.56,-0.76 L160.97,-2.03 L161.88,-3.75 L162.20,-5.69" fill="none" stroke="#000" stroke-width="1.0" stroke-linecap="round" stroke-linejoin="round"/>
<path transform="translate(1237.8,820.0) rotate(-90)" d="M0.00,-17.00 L0.00,0.00 L9.35,0.00 M25.16,-5.70 L24.84,-7.64 L23.92,-9.36 L22.52,-10.63 L20.80,-11.30 L18.97,-11.30 L17.25,-10.63 L15.85,-9.36 L14.94,-7.64 L14.62,-5.70 L14.94,-3.75 L15.85,-2.03 L17.25,-0.76 L18.97,-0.09 L20.80,-0.09 L22.52,-0.76 L23.92,-2.03 L24.84,-3.75 L25.16,-5.69 M39.73,-9.36 L38.33,-10.63 L36.61,-11.30 L34.78,-11.30 L33.06,-10.63 L31.66,-9.36 L30.74,-7.64 L30.43,-5.70 L30.74,-3.75 L31.66,-2.03 L33.06,-0.76 L34.78,-0.09 L36.61,-0.09 L38.33,-0.76 L39.73,-2.03 M45.55,0.00 L45.55,-0.85 M75.70,-13.73 L74.10,-15.73 L72.09,-16.83 L69.94,-16.90 L67.90,-15.92 L66.23,-14.03 L65.14,-11.45 L64.76,-8.50 L65.14,-5.55 L66.23,-2.97 L67.90,-1.08 L69.94,-0.10 L72.09,-0.17 L74.10,-1.27 L75.70,-3.27 M81.59,-5.61 L91.79,-5.61 L91.79,-5.70 L91.47,-7.67 L90.56,-9.40 L89.16,-10.67 L87.46,-11.32 L85.67,-11.27 L83.99,-10.53 L82.66,-9.19 L81.82,-7.41 L81.59,-5.42 L82.00,-3.46 L82.98,-1.78 L84.43,-0.59 L86.16,-0.03 L87.95,-0.18 L89.59,-1.01 L90.87,-2.43 M97.06,-11.39 L97.06,0.00 M97.06,-7.14 L97.47,-8.77 L98.65,-10.15 L100.41,-11.07 L102.50,-11.39 L103.52,-11.39 M108.44,-11.39 L108.44,0.00 M108.44,-16.15 L108.44,-15.30 M122.59,-8.54 L121.53,-10.06 L120.10,-11.05 L118.47,-11.39 L116.84,-11.05 L115.41,-10.06 L114.35,-8.54 L113.78,-6.68 L113.78,-4.71 L114.35,-2.85 L115.41,-1.33 L116.84,-0.34 L118.47,-0.00 L120.10,-0.34 L121.53,-1.33 L122.59,-2.85 M123.40,-11.39 L123.40,2.04 L123.40,2.04 L123.15,3.26 L122.45,4.33 L121.36,5.13 L120.03,5.56 L118.61,5.56 L117.28,5.13 L116.19,4.33 M128.84,-11.39 L128.84,0.00 M128.84,-7.65 L129.09,-8.93 L129.83,-10.05 L130.96,-10.89 L132.35,-11.33 L133.83,-11.33 L135.21,-10.89 L136.34,-10.05 L137.08,-8.93 L137.34,-7.65 L137.34,0.00 M151.49,-8.54 L150.42,-10.06 L148.99,-11.05 L147.37,-11.39 L145.74,-11.05 L144.31,-10.06 L143.24,-8.54 L142.68,-6.68 L142.68,-4.71 L143.24,-2.85 L144.31,-1.33 L145.74,-0.34 L147.37,-0.00 L148.99,-0.34 L150.42,-1.33 L151.49,-2.85 M152.30,-11.39 L152.30,0.00 M157.73,-17.00 L157.73,0.00 M163.00,-5.61 L173.20,-5.61 L173.20,-5.70 L172.88,-7.67 L171.97,-9.40 L170.58,-10.67 L168.88,-11.32 L167.08,-11.27 L165.41,-10.53 L164.07,-9.19 L163.24,-7.41 L163.01,-5.42 L163.41,-3.46 L164.40,-1.78 L165.84,-0.59 L167.57,-0.03 L169.37,-0.18 L171.00,-1.01 L172.28,-2.43" fill="none" stroke="#000" stroke-width="1.0" stroke-linecap="round" stroke-linejoin="round"/>
<path transform="translate(1426.8,837.0) rotate(-90)" d="M0.00,0.00 L0.00,-17.00 L6.80,-17.00 L6.80,-17.00 L8.08,-16.75 L9.20,-16.05 L10.04,-14.96 L10.48,-13.63 L10.48,-12.21 L10.04,-10.88 L9.20,-9.79 L8.08,-9.09 L6.80,-8.84 L0.00,-8.84 M26.26,-5.70 L25.94,-7.64 L25.03,-9.36 L23.63,-10.63 L21.91,-11.30 L20.08,-11.30 L18.36,-10.63 L16.95,-9.36 L16.04,-7.64 L15.72,-5.70 L16.04,-3.75 L16.95,-2.03 L18.36,-0.76 L20.08,-0.09 L21.91,-0.09 L23.63,-0.76 L25.03,-2.03 L25.94,-3.75 L26.26,-5.69 M31.44,-11.39 L31.44,0.00 M31.44,-7.65 L31.70,-8.93 L32.44,-10.05 L33.57,-10.89 L34.95,-11.33 L36.43,-11.33 L37.82,-10.89 L38.95,-10.05 L39.69,-8.93 L39.94,-7.65 L39.94,0.00 M47.16,-17.00 L47.16,-2.04 L47.16,-2.04 L47.34,-1.26 L47.86,-0.60 L48.63,-0.16 L49.54,-0.00 L51.58,0.00 M45.12,-11.39 L51.58,-11.39 M56.76,-5.61 L66.96,-5.61 L66.96,-5.70 L66.65,-7.67 L65.73,-9.40 L64.34,-10.67 L62.64,-11.32 L60.84,-11.27 L59.17,-10.53 L57.83,-9.19 L57.00,-7.41 L56.77,-5.42 L57.17,-3.46 L58.16,-1.78 L59.61,-0.59 L61.34,-0.03 L63.13,-0.18 L64.77,-1.01 L66.04,-2.43 M86.08,-17.00 L86.08,0.00 L95.43,0.00 M100.62,-5.61 L110.82,-5.61 L110.82,-5.70 L110.50,-7.67 L109.59,-9.40 L108.19,-10.67 L106.49,-11.32 L104.69,-11.27 L103.02,-10.53 L101.69,-9.19 L100.85,-7.41 L100.62,-5.42 L101.03,-3.46 L102.01,-1.78 L103.46,-0.59 L105.19,-0.03 L106.98,-0.18 L108.62,-1.01 L109.89,-2.43 M116.00,-11.39 L116.00,0.00 M116.00,-7.65 L116.25,-8.93 L116.99,-10.05 L118.12,-10.89 L119.51,-11.33 L120.98,-11.33 L122.37,-10.89 L123.50,-10.05 L124.24,-8.93 L124.50,-7.65 L124.50,0.00 M129.68,-11.39 L138.52,-11.39 L129.68,0.00 L138.52,0.00 M143.70,-11.39 L143.70,0.00 M143.70,-16.15 L143.70,-15.30 M148.88,-11.39 L148.88,0.00 M148.88,-7.65 L149.14,-8.93 L149.87,-10.05 L151.00,-10.89 L152.39,-11.33 L153.87,-11.33 L155.25,-10.89 L156.38,-10.05 L157.12,-8.93 L157.38,-7.65 L157.38,0.00 M173.10,-5.70 L172.78,-7.64 L171.87,-9.36 L170.47,-10.63 L168.75,-11.30 L166.91,-11.30 L165.19,-10.63 L163.79,-9.36 L162.88,-7.64 L162.56,-5.70 L162.88,-3.75 L163.79,-2.03 L165.19,-0.76 L166.91,-0.09 L168.75,-0.09 L170.47,-0.76 L171.87,-2.03 L172.78,-3.75 L173.10,-5.69" fill="none" stroke="#000" stroke-width="1.0" stroke-linecap="round" stroke-linejoin="round"/>
<path transform="translate(1617.3,829.0) rotate(-90)" d="M0.00,-17.00 L0.00,0.00 L9.35,0.00 M25.49,-5.70 L25.18,-7.64 L24.26,-9.36 L22.86,-10.63 L21.14,-11.30 L19.31,-11.30 L17.59,-10.63 L16.19,-9.36 L15.27,-7.64 L14.95,-5.70 L15.27,-3.75 L16.19,-2.03 L17.59,-0.76 L19.31,-0.09 L21.14,-0.09 L22.86,-0.76 L24.26,-2.03 L25.18,-3.75 L25.49,-5.69 M40.41,-9.36 L39.00,-10.63 L37.28,-11.30 L35.45,-11.30 L33.73,-10.63 L32.33,-9.36 L31.42,-7.64 L31.10,-5.70 L31.42,-3.75 L32.33,-2.03 L33.73,-0.76 L35.45,-0.09 L37.28,-0.09 L39.00,-0.76 L40.41,-2.03 M46.56,0.00 L46.56,-0.85 M66.11,-9.01 L66.11,-17.00 L72.91,-17.00 L72.91,-17.00 L74.19,-16.76 L75.31,-16.07 L76.15,-15.00 L76.59,-13.70 L76.59,-12.31 L76.15,-11.01 L75.31,-9.94 L74.19,-9.25 L72.91,-9.01 L66.11,-9.01 M66.11,-9.01 L73.25,-9.01 L73.25,-9.01 L74.64,-8.74 L75.87,-7.96 L76.78,-6.76 L77.26,-5.29 L77.26,-3.72 L76.78,-2.25 L75.87,-1.05 L74.64,-0.27 L73.25,-0.00 L66.11,0.00 L66.11,-9.01 M82.25,-11.39 L82.25,0.00 M82.25,-7.14 L82.66,-8.77 L83.84,-10.15 L85.61,-11.07 L87.69,-11.39 L88.71,-11.39 M93.98,-11.39 L93.98,-3.74 L94.23,-2.46 L94.97,-1.34 L96.10,-0.50 L97.49,-0.06 L98.96,-0.06 L100.35,-0.50 L101.48,-1.34 L102.22,-2.46 L102.48,-3.74 M102.48,-11.39 L102.48,0.00 M116.96,-8.54 L115.90,-10.06 L114.47,-11.05 L112.84,-11.39 L111.21,-11.05 L109.78,-10.06 L108.72,-8.54 L108.15,-6.68 L108.15,-4.71 L108.72,-2.85 L109.78,-1.33 L111.21,-0.34 L112.84,-0.00 L114.47,-0.34 L115.90,-1.33 L116.96,-2.85 M117.77,-11.39 L117.77,2.04 L117.77,2.04 L117.52,3.26 L116.81,4.33 L115.73,5.13 L114.40,5.56 L112.98,5.56 L111.65,5.13 L110.56,4.33 M123.54,-11.39 L123.54,0.00 M123.54,-7.65 L123.80,-8.93 L124.54,-10.05 L125.67,-10.89 L127.06,-11.33 L128.53,-11.33 L129.92,-10.89 L131.05,-10.05 L131.79,-8.93 L132.04,-7.65 L132.04,0.00 M137.65,-5.61 L147.85,-5.61 L147.85,-5.70 L147.53,-7.67 L146.62,-9.40 L145.22,-10.67 L143.52,-11.32 L141.73,-11.27 L140.05,-10.53 L138.72,-9.19 L137.88,-7.41 L137.65,-5.42 L138.06,-3.46 L139.04,-1.78 L140.49,-0.59 L142.22,-0.03 L144.01,-0.18 L145.65,-1.01 L146.93,-2.43 M153.45,-17.00 L153.45,0.00 M159.06,-17.00 L159.06,0.00 M175.20,-5.70 L174.88,-7.64 L173.97,-9.36 L172.57,-10.63 L170.85,-11.30 L169.01,-11.30 L167.30,-10.63 L165.89,-9.36 L164.98,-7.64 L164.66,-5.70 L164.98,-3.75 L165.89,-2.03 L167.30,-0.76 L169.01,-0.09 L170.85,-0.09 L172.57,-0.76 L173.97,-2.03 L174.88,-3.75 L175.20,-5.69" fill="none" stroke="#000" stroke-width="1.0" stroke-linecap="round" stroke-linejoin="round"/>
<path transform="translate(1714.2,862.8) rotate(-90)" d="M0.00,-17.00 L0.00,0.00 L9.35,0.00 M25.24,-5.70 L24.92,-7.64 L24.01,-9.36 L22.60,-10.63 L20.89,-11.30 L19.05,-11.30 L17.34,-10.63 L15.93,-9.36 L15.02,-7.64 L14.70,-5.70 L15.02,-3.75 L15.93,-2.03 L17.33,-0.76 L19.05,-0.09 L20.89,-0.09 L22.60,-0.76 L24.01,-2.03 L24.92,-3.75 L25.24,-5.69 M39.90,-9.36 L38.49,-10.63 L36.78,-11.30 L34.94,-11.30 L33.23,-10.63 L31.82,-9.36 L30.91,-7.64 L30.59,-5.70 L30.91,-3.75 L31.82,-2.03 L33.22,-0.76 L34.94,-0.09 L36.78,-0.09 L38.49,-0.76 L39.90,-2.03 M45.80,0.00 L45.80,-0.85 M65.09,0.00 L65.09,-17.00 L71.89,-0.85 L78.69,-17.00 L78.69,0.00 M92.92,-8.54 L91.86,-10.06 L90.43,-11.05 L88.80,-11.39 L87.17,-11.05 L85.74,-10.06 L84.68,-8.54 L84.11,-6.68 L84.11,-4.71 L84.68,-2.85 L85.74,-1.33 L87.17,-0.34 L88.80,-0.00 L90.43,-0.34 L91.86,-1.33 L92.92,-2.85 M93.73,-11.39 L93.73,0.00 M99.25,-11.39 L99.25,0.00 M99.25,-7.14 L99.66,-8.77 L100.84,-10.15 L102.61,-11.07 L104.69,-11.39 L105.71,-11.39 M119.63,-9.77 L118.68,-10.58 L117.31,-11.14 L115.70,-11.38 L114.05,-11.27 L112.58,-10.82 L111.45,-10.09 L110.82,-9.17 L110.77,-8.18 L111.30,-7.24 L112.34,-6.46 L113.76,-5.96 L115.39,-5.78 L115.39,-5.78 L117.03,-5.60 L118.45,-5.08 L119.49,-4.28 L120.02,-3.31 L119.97,-2.29 L119.34,-1.34 L118.21,-0.58 L116.74,-0.12 L115.09,-0.01 L113.48,-0.25 L112.11,-0.83 L111.16,-1.67 M134.30,-8.54 L133.24,-10.06 L131.81,-11.05 L130.18,-11.39 L128.55,-11.05 L127.12,-10.06 L126.06,-8.54 L125.49,-6.68 L125.49,-4.71 L126.06,-2.85 L127.12,-1.33 L128.55,-0.34 L130.18,-0.00 L131.81,-0.34 L133.24,-1.33 L134.30,-2.85 M135.11,-11.39 L135.11,0.00 M149.51,-8.54 L148.45,-10.06 L147.02,-11.05 L145.39,-11.39 L143.76,-11.05 L142.33,-10.06 L141.27,-8.54 L140.70,-6.68 L140.70,-4.71 L141.27,-2.85 L142.33,-1.33 L143.76,-0.34 L145.39,-0.00 L147.02,-0.34 L148.45,-1.33 L149.51,-2.85 M150.32,-11.39 L150.32,2.04 L150.32,2.04 L150.07,3.26 L149.37,4.33 L148.28,5.13 L146.95,5.56 L145.53,5.56 L144.20,5.13 L143.11,4.33 M155.84,-17.00 L155.84,0.00 M161.19,-11.39 L161.19,0.00 M161.19,-16.15 L161.19,-15.30 M175.42,-8.54 L174.36,-10.06 L172.93,-11.05 L171.30,-11.39 L169.67,-11.05 L168.24,-10.06 L167.18,-8.54 L166.61,-6.68 L166.61,-4.71 L167.18,-2.85 L168.24,-1.33 L169.67,-0.34 L171.30,-0.00 L172.93,-0.34 L174.36,-1.33 L175.42,-2.85 M176.23,-11.39 L176.23,0.00" fill="none" stroke="#000" stroke-width="1.0" stroke-linecap="round" stroke-linejoin="round"/>
<path transform="translate(1932.0,886.8) rotate(-90)" d="M0.00,0.00 L0.00,-17.00 L6.80,-0.85 L13.60,-17.00 L13.60,0.00 M27.32,-5.70 L27.00,-7.64 L26.09,-9.36 L24.69,-10.63 L22.97,-11.30 L21.14,-11.30 L19.42,-10.63 L18.01,-9.36 L17.10,-7.64 L16.78,-5.70 L17.10,-3.75 L18.01,-2.03 L19.42,-0.76 L21.14,-0.09 L22.97,-0.09 L24.69,-0.76 L26.09,-2.03 L27.00,-3.75 L27.32,-5.69 M30.50,-11.39 L30.50,0.00 M30.50,-7.65 L30.76,-8.93 L31.50,-10.05 L32.63,-10.89 L34.02,-11.33 L35.49,-11.33 L36.88,-10.89 L38.01,-10.05 L38.75,-8.93 L39.00,-7.65 L39.00,0.00 M44.23,-17.00 L44.23,-2.04 L44.23,-2.04 L44.41,-1.26 L44.92,-0.60 L45.69,-0.16 L46.61,-0.00 L48.65,0.00 M42.19,-11.39 L48.65,-11.39 M51.83,-5.61 L62.03,-5.61 L62.03,-5.70 L61.71,-7.67 L60.80,-9.40 L59.40,-10.67 L57.70,-11.32 L55.91,-11.27 L54.23,-10.53 L52.90,-9.19 L52.06,-7.41 L51.83,-5.42 L52.24,-3.46 L53.22,-1.78 L54.67,-0.59 L56.40,-0.03 L58.19,-0.18 L59.83,-1.01 L61.10,-2.43 M79.15,0.00 L85.27,-17.00 L91.39,0.00 M81.19,-5.78 L89.35,-5.78 M103.48,-9.77 L102.53,-10.58 L101.16,-11.14 L99.55,-11.38 L97.91,-11.27 L96.43,-10.82 L95.30,-10.09 L94.67,-9.17 L94.62,-8.18 L95.15,-7.24 L96.19,-6.46 L97.62,-5.96 L99.25,-5.78 L99.25,-5.78 L100.88,-5.60 L102.30,-5.08 L103.34,-4.28 L103.87,-3.31 L103.82,-2.29 L103.19,-1.34 L102.06,-0.58 L100.59,-0.12 L98.94,-0.01 L97.33,-0.25 L95.96,-0.83 L95.01,-1.67 M116.01,-9.77 L115.06,-10.58 L113.69,-11.14 L112.08,-11.38 L110.44,-11.27 L108.96,-10.82 L107.83,-10.09 L107.21,-9.17 L107.15,-8.18 L107.68,-7.24 L108.72,-6.46 L110.15,-5.96 L111.78,-5.78 L111.78,-5.78 L113.41,-5.60 L114.83,-5.08 L115.88,-4.28 L116.40,-3.31 L116.35,-2.29 L115.72,-1.34 L114.60,-0.58 L113.12,-0.12 L111.47,-0.01 L109.86,-0.25 L108.50,-0.83 L107.54,-1.67 M119.63,-5.61 L129.83,-5.61 L129.83,-5.70 L129.52,-7.67 L128.61,-9.40 L127.21,-10.67 L125.51,-11.32 L123.71,-11.27 L122.04,-10.53 L120.71,-9.19 L119.87,-7.41 L119.64,-5.42 L120.04,-3.46 L121.03,-1.78 L122.48,-0.59 L124.21,-0.03 L126.00,-0.18 L127.64,-1.01 L128.91,-2.43 M133.02,-11.39 L133.02,0.00 M133.02,-7.14 L133.43,-8.77 L134.61,-10.15 L136.37,-11.07 L138.46,-11.39 L139.48,-11.39 M142.32,-5.61 L152.52,-5.61 L152.52,-5.70 L152.20,-7.67 L151.29,-9.40 L149.90,-10.67 L148.19,-11.32 L146.40,-11.27 L144.73,-10.53 L143.39,-9.19 L142.55,-7.41 L142.32,-5.42 L142.73,-3.46 L143.71,-1.78 L145.16,-0.59 L146.89,-0.03 L148.68,-0.18 L150.32,-1.01 L151.60,-2.43 M155.70,-11.39 L155.70,0.00 M155.70,-16.15 L155.70,-15.30" fill="none" stroke="#000" stroke-width="1.0" stroke-linecap="round" stroke-linejoin="round"/>
<path transform="translate(2005.0,912.6) rotate(-90)" d="M0.00,0.00 L0.00,-17.00 L6.80,-17.00 L6.80,-17.00 L8.08,-16.75 L9.20,-16.05 L10.04,-14.96 L10.48,-13.63 L10.48,-12.21 L10.04,-10.88 L9.20,-9.79 L8.08,-9.09 L6.80,-8.84 L0.00,-8.84 M23.86,-8.54 L22.80,-10.06 L21.36,-11.05 L19.74,-11.39 L18.11,-11.05 L16.68,-10.06 L15.61,-8.54 L15.05,-6.68 L15.05,-4.71 L15.61,-2.85 L16.68,-1.33 L18.11,-0.34 L19.74,-0.00 L21.36,-0.34 L22.80,-1.33 L23.86,-2.85 M24.67,-11.39 L24.67,0.00 M38.19,-9.77 L37.23,-10.58 L35.86,-11.14 L34.25,-11.38 L32.61,-11.27 L31.13,-10.82 L30.01,-10.09 L29.38,-9.17 L29.32,-8.18 L29.85,-7.24 L30.89,-6.46 L32.32,-5.96 L33.95,-5.78 L33.95,-5.78 L35.58,-5.60 L37.01,-5.08 L38.05,-4.28 L38.57,-3.31 L38.52,-2.29 L37.89,-1.34 L36.77,-0.58 L35.29,-0.12 L33.64,-0.01 L32.03,-0.25 L30.67,-0.83 L29.71,-1.67 M51.97,-9.77 L51.02,-10.58 L49.65,-11.14 L48.04,-11.38 L46.39,-11.27 L44.92,-10.82 L43.79,-10.09 L43.16,-9.17 L43.11,-8.18 L43.64,-7.24 L44.68,-6.46 L46.10,-5.96 L47.74,-5.78 L47.74,-5.78 L49.37,-5.60 L50.79,-5.08 L51.83,-4.28 L52.36,-3.31 L52.31,-2.29 L51.68,-1.34 L50.55,-0.58 L49.08,-0.12 L47.43,-0.01 L45.82,-0.25 L44.45,-0.83 L43.50,-1.67 M67.39,-5.70 L67.07,-7.64 L66.15,-9.36 L64.75,-10.63 L63.03,-11.30 L61.20,-11.30 L59.48,-10.63 L58.08,-9.36 L57.16,-7.64 L56.85,-5.70 L57.16,-3.75 L58.08,-2.03 L59.48,-0.76 L61.20,-0.09 L63.03,-0.09 L64.75,-0.76 L66.15,-2.03 L67.07,-3.75 L67.39,-5.69 M85.76,0.00 L91.88,-17.00 L98.00,0.00 M87.80,-5.78 L95.96,-5.78 M102.44,-17.00 L102.44,0.00 M107.85,-8.54 L108.92,-10.06 L110.35,-11.05 L111.98,-11.39 L113.60,-11.05 L115.04,-10.06 L116.10,-8.54 L116.66,-6.68 L116.66,-4.71 L116.10,-2.85 L115.04,-1.33 L113.60,-0.34 L111.98,-0.00 L110.35,-0.34 L108.92,-1.33 L107.85,-2.85 M107.05,-17.00 L107.05,0.00 M130.06,-8.54 L128.99,-10.06 L127.56,-11.05 L125.93,-11.39 L124.31,-11.05 L122.87,-10.06 L121.81,-8.54 L121.25,-6.68 L121.25,-4.71 L121.81,-2.85 L122.87,-1.33 L124.31,-0.34 L125.93,-0.00 L127.56,-0.34 L128.99,-1.33 L130.06,-2.85 M130.86,-11.39 L130.86,0.00 M135.47,-11.39 L135.47,0.00 M135.47,-7.14 L135.88,-8.77 L137.06,-10.15 L138.83,-11.07 L140.91,-11.39 L141.93,-11.39 M146.03,-5.61 L156.23,-5.61 L156.23,-5.70 L155.91,-7.67 L155.00,-9.40 L153.60,-10.67 L151.90,-11.32 L150.10,-11.27 L148.43,-10.53 L147.10,-9.19 L146.26,-7.41 L146.03,-5.42 L146.44,-3.46 L147.42,-1.78 L148.87,-0.59 L150.60,-0.03 L152.39,-0.18 L154.03,-1.01 L155.30,-2.43 M162.70,-17.00 L162.70,-2.04 L162.70,-2.04 L162.88,-1.26 L163.40,-0.60 L164.17,-0.16 L165.08,-0.00 L167.12,0.00 M160.66,-11.39 L167.12,-11.39 M182.10,-5.70 L181.78,-7.64 L180.87,-9.36 L179.47,-10.63 L177.75,-11.30 L175.91,-11.30 L174.20,-10.63 L172.79,-9.36 L171.88,-7.64 L171.56,-5.70 L171.88,-3.75 L172.79,-2.03 L174.20,-0.76 L175.91,-0.09 L177.75,-0.09 L179.47,-0.76 L180.87,-2.03 L181.78,-3.75 L182.10,-5.69" fill="none" stroke="#000" stroke-width="1.0" stroke-linecap="round" stroke-linejoin="round"/>
<g stroke="#0040ff" stroke-width="2.8" fill="none">
<line x1="322.5" y1="647.8" x2="322.5" y2="846"/>
<line x1="401.5" y1="649" x2="401.5" y2="959.5"/>
<line x1="486.3" y1="650.1" x2="486.3" y2="911"/>
<line x1="531.4" y1="665.8" x2="531.4" y2="911"/>
<line x1="571.4" y1="649" x2="571.4" y2="910"/>
<line x1="613.3" y1="649" x2="613.3" y2="959.5"/>
<line x1="769.4" y1="694.2" x2="769.4" y2="959.5"/>
<line x1="789.4" y1="545.7" x2="789.4" y2="898"/>
<line x1="958.4" y1="649.4" x2="958.4" y2="959.5"/>
<line x1="1119.4" y1="650.5" x2="1119.4" y2="872.5"/>
<line x1="1242.5" y1="649.7" x2="1242.5" y2="959.5"/>
<line x1="1430.3" y1="649.7" x2="1430.3" y2="959.5"/>
<line x1="1619.2" y1="646.4" x2="1619.2" y2="894.1"/>
<line x1="1715.4" y1="649.4" x2="1715.4" y2="959.5"/>
<line x1="1899.4" y1="649.4" x2="1899.4" y2="793.5"/>
<line x1="1935.4" y1="641.3" x2="1935.4" y2="892"/>
<line x1="2012.2" y1="649.4" x2="2012.2" y2="959.5"/>
<line x1="2050.3" y1="649.4" x2="2050.3" y2="812.7"/>
<line x1="2183" y1="877" x2="2183" y2="959.5"/>
<line x1="150.5" y1="903" x2="150.5" y2="998.7"/>
<line x1="401.5" y1="976.5" x2="401.5" y2="1000.5"/>
<line x1="613.3" y1="976.5" x2="613.3" y2="1000.5"/>
<line x1="769.4" y1="976.5" x2="769.4" y2="1000.5"/>
<line x1="1242.5" y1="976.5" x2="1242.5" y2="1000.5"/>
<line x1="1430.3" y1="976.5" x2="1430.3" y2="1000.5"/>
<line x1="1715.4" y1="976.5" x2="1715.4" y2="1000.5"/>
<line x1="2012.2" y1="976.5" x2="2012.2" y2="1000.5"/>
<line x1="2183" y1="976.5" x2="2183" y2="1000.5"/>
<polyline points="958.4,976.4 958.4,984 983.6,992.3 983.6,1001.5"/>
<rect x="150.5" y="922.6" width="251.0" height="19.9" rx="8" ry="7"/>
<rect x="401.5" y="922.6" width="211.8" height="19.9" rx="8" ry="7"/>
<rect x="613.3" y="922.6" width="156.1" height="19.9" rx="8" ry="7"/>
<rect x="769.4" y="922.6" width="189.0" height="19.9" rx="8" ry="7"/>
<rect x="958.4" y="922.6" width="284.1" height="19.9" rx="8" ry="7"/>
<rect x="1242.5" y="922.6" width="187.8" height="19.9" rx="8" ry="7"/>
<rect x="1430.3" y="922.6" width="285.1" height="19.9" rx="8" ry="7"/>
<rect x="1715.4" y="922.6" width="296.8" height="19.9" rx="8" ry="7"/>
<rect x="2012.2" y="922.6" width="170.8" height="19.9" rx="8" ry="7"/>
</g>
<g fill="#0040ff">
<circle cx="150" cy="882" r="7"/>
<circle cx="322.3" cy="846" r="7"/>
<circle cx="401.4" cy="781.5" r="7"/>
<circle cx="486.3" cy="737.3" r="7"/>
<circle cx="531.1" cy="770.7" r="7"/>
<circle cx="571.5" cy="731.9" r="7"/>
<circle cx="613.6" cy="725.8" r="7"/>
<circle cx="769.5" cy="782.4" r="7"/>
<circle cx="789.5" cy="755.8" r="7"/>
<circle cx="958.2" cy="899.1" r="7"/>
<circle cx="1118.3" cy="814.8" r="7"/>
<circle cx="1242.1" cy="858.7" r="7"/>
<circle cx="1429.9" cy="896.3" r="7"/>
<circle cx="1619.1" cy="849.5" r="7"/>
<circle cx="1714.7" cy="914" r="7"/>
<circle cx="1898.8" cy="793.5" r="7"/>
<circle cx="1934.7" cy="775.8" r="7"/>
<circle cx="2011.9" cy="796.4" r="7"/>
<circle cx="2050.2" cy="812.7" r="7"/>
<circle cx="2182.9" cy="877" r="7"/>
</g>
<rect x="304.5" y="598.6" width="34.5" height="38.2" fill="#fff" stroke="#0040ff" stroke-width="3"/>
<use href="#gW" transform="translate(303.0,597.1) scale(1.0)"/>
<rect x="384.0" y="598.8" width="34.5" height="38.2" fill="#fff" stroke="#0040ff" stroke-width="3"/>
<use href="#gR" transform="translate(382.5,597.3) scale(1.0)"/>
<rect x="466.6" y="598.5" width="34.5" height="38.2" fill="#fff" stroke="#0040ff" stroke-width="3"/>
<use href="#gV" transform="translate(465.1,597.0) scale(1.0)"/>
<rect x="553.0" y="598.0" width="34.5" height="38.2" fill="#fff" stroke="#0040ff" stroke-width="3"/>
<use href="#gV" transform="translate(551.5,596.5) scale(1.0)"/>
<rect x="594.9" y="598.0" width="34.5" height="38.2" fill="#fff" stroke="#0040ff" stroke-width="3"/>
<use href="#gV" transform="translate(593.4,596.5) scale(1.0)"/>
<rect x="594.1" y="552.8" width="34.5" height="38.2" fill="#fff" stroke="#0040ff" stroke-width="3"/>
<use href="#gR" transform="translate(592.6,551.3) scale(1.0)"/>
<rect x="771.9" y="498.9" width="34.5" height="38.2" fill="#fff" stroke="#0040ff" stroke-width="3"/>
<use href="#gV" transform="translate(770.4,497.4) scale(1.0)"/>
<rect x="752.5" y="601.4" width="34.5" height="38.2" fill="#fff" stroke="#0040ff" stroke-width="3"/>
<use href="#gR" transform="translate(751.0,599.9) scale(1.0)"/>
<rect x="752.5" y="649.5" width="34.5" height="38.2" fill="#fff" stroke="#0040ff" stroke-width="3"/>
<use href="#gC" transform="translate(751.0,648.0) scale(1.0)"/>
<rect x="940.9" y="599.2" width="34.5" height="38.2" fill="#fff" stroke="#0040ff" stroke-width="3"/>
<use href="#gR" transform="translate(939.4,597.7) scale(1.0)"/>
<rect x="1101.7" y="599.9" width="34.5" height="38.2" fill="#fff" stroke="#0040ff" stroke-width="3"/>
<use href="#gW" transform="translate(1100.2,598.4) scale(1.0)"/>
<rect x="1224.8" y="553.1" width="34.5" height="38.2" fill="#fff" stroke="#0040ff" stroke-width="3"/>
<use href="#gC" transform="translate(1223.3,551.6) scale(1.0)"/>
<rect x="1224.8" y="599.1" width="34.5" height="38.2" fill="#fff" stroke="#0040ff" stroke-width="3"/>
<use href="#gR" transform="translate(1223.3,597.6) scale(1.0)"/>
<rect x="1413.0" y="599.1" width="34.5" height="38.2" fill="#fff" stroke="#0040ff" stroke-width="3"/>
<use href="#gR" transform="translate(1411.5,597.6) scale(1.0)"/>
<rect x="1601.1" y="595.2" width="34.5" height="38.2" fill="#fff" stroke="#0040ff" stroke-width="3"/>
<use href="#gV" transform="translate(1599.6,593.7) scale(1.0)"/>
<rect x="1698.0" y="599.1" width="34.5" height="38.2" fill="#fff" stroke="#0040ff" stroke-width="3"/>
<use href="#gR" transform="translate(1696.5,597.6) scale(1.0)"/>
<rect x="1882.0" y="599.9" width="34.5" height="38.2" fill="#fff" stroke="#0040ff" stroke-width="3"/>
<use href="#gW" transform="translate(1880.5,598.4) scale(1.0)"/>
<rect x="1994.8" y="599.1" width="34.5" height="38.2" fill="#fff" stroke="#0040ff" stroke-width="3"/>
<use href="#gR" transform="translate(1993.3,597.6) scale(1.0)"/>
<rect x="2032.9" y="599.9" width="34.5" height="38.2" fill="#fff" stroke="#0040ff" stroke-width="3"/>
<use href="#gW" transform="translate(2031.4,598.4) scale(1.0)"/>
<path d="M500.95,730.91 L489.75,750.40 H512.15 Z" fill="none" stroke="#ff0000" stroke-width="2.6" stroke-linejoin="miter" stroke-miterlimit="10"/>
<path d="M499.52,736.49 H502.38 L501.52,746.55 H500.38 Z" fill="#ff0000"/>
<circle cx="500.95" cy="748.31" r="1.30" fill="#ff0000"/>
<path d="M587.50,723.88 L575.83,742.80 H599.17 Z" fill="none" stroke="#ff0000" stroke-width="2.6" stroke-linejoin="miter" stroke-miterlimit="10"/>
<path d="M586.07,729.35 H588.93 L588.07,739.11 H586.93 Z" fill="#ff0000"/>
<circle cx="587.50" cy="740.81" r="1.30" fill="#ff0000"/>
<path d="M765.50,741.89 L754.10,762.50 H776.90 Z" fill="none" stroke="#ff0000" stroke-width="2.6" stroke-linejoin="miter" stroke-miterlimit="10"/>
<path d="M764.07,747.81 H766.93 L766.07,758.39 H764.93 Z" fill="#ff0000"/>
<circle cx="765.50" cy="760.23" r="1.30" fill="#ff0000"/>
<path d="M1265.30,1121.85 L1230.55,1183.85 H1300.05 Z" fill="none" stroke="#ff0000" stroke-width="6.5" stroke-linejoin="miter" stroke-miterlimit="10"/>
<path d="M1261.72,1140.37 H1268.88 L1266.73,1171.28 H1263.87 Z" fill="#ff0000"/>
<circle cx="1265.30" cy="1176.67" r="3.25" fill="#ff0000"/>
<circle cx="261.7" cy="294" r="49.5" fill="none" stroke="#0040ff" stroke-width="3"/>
<text x="216.6" y="310.5" font-size="41.0" font-family="Liberation Sans, sans-serif" fill="#0040ff" textLength="84.3" lengthAdjust="spacingAndGlyphs" style="white-space:pre" >TVGT</text>
<path transform="translate(216.0,411.7)" d="M0.00,-29.70 L20.79,-29.70 M10.39,-29.70 L10.39,0.00 M28.08,-29.70 L28.08,0.00 M28.08,-13.37 L28.53,-15.60 L29.82,-17.56 L31.80,-19.02 L34.22,-19.80 L36.80,-19.80 L39.22,-19.02 L41.20,-17.56 L42.49,-15.60 L42.93,-13.37 L42.93,0.00 M50.23,-19.90 L50.23,0.00 M50.23,-12.47 L50.95,-15.32 L53.01,-17.72 L56.09,-19.33 L59.73,-19.90 L61.51,-19.90 M68.21,-9.80 L86.03,-9.80 L86.03,-9.95 L85.48,-13.40 L83.89,-16.43 L81.45,-18.65 L78.48,-19.78 L75.34,-19.70 L72.42,-18.40 L70.08,-16.05 L68.62,-12.94 L68.22,-9.46 L68.93,-6.04 L70.65,-3.11 L73.18,-1.03 L76.20,-0.05 L79.33,-0.31 L82.19,-1.77 L84.42,-4.24 M93.33,-9.80 L111.15,-9.80 L111.15,-9.95 L110.59,-13.40 L109.00,-16.43 L106.56,-18.65 L103.59,-19.78 L100.45,-19.70 L97.53,-18.40 L95.20,-16.05 L93.74,-12.94 L93.34,-9.46 L94.04,-6.04 L95.77,-3.11 L98.30,-1.03 L101.31,-0.05 L104.45,-0.31 L107.31,-1.77 L109.53,-4.24 M142.79,-29.70 L153.49,0.00 L164.18,-29.70 M186.99,-14.92 L185.13,-17.57 L182.63,-19.30 L179.79,-19.90 L176.94,-19.30 L174.44,-17.57 L172.59,-14.92 L171.60,-11.68 L171.60,-8.22 L172.59,-4.97 L174.44,-2.33 L176.94,-0.60 L179.79,-0.00 L182.63,-0.60 L185.13,-2.33 L186.99,-4.97 M188.40,-19.90 L188.40,0.00 M195.99,-29.70 L195.99,0.00 M203.28,-29.70 L203.28,0.00 M210.58,-9.80 L228.40,-9.80 L228.40,-9.95 L227.84,-13.40 L226.25,-16.43 L223.82,-18.65 L220.84,-19.78 L217.70,-19.70 L214.78,-18.40 L212.45,-16.05 L210.99,-12.94 L210.59,-9.46 L211.29,-6.04 L213.02,-3.11 L215.55,-1.03 L218.57,-0.05 L221.70,-0.31 L224.56,-1.77 L226.79,-4.24 M235.69,-19.90 L243.41,0.00 M251.14,-19.90 L243.41,0.00 L239.85,7.13 L236.88,9.80 M274.00,-17.07 L272.33,-18.49 L269.94,-19.47 L267.13,-19.89 L264.25,-19.69 L261.67,-18.91 L259.71,-17.63 L258.61,-16.02 L258.52,-14.29 L259.44,-12.64 L261.26,-11.29 L263.75,-10.41 L266.60,-10.10 L266.60,-10.10 L269.45,-9.78 L271.94,-8.87 L273.76,-7.48 L274.68,-5.78 L274.58,-3.99 L273.48,-2.34 L271.52,-1.02 L268.94,-0.21 L266.06,-0.01 L263.25,-0.44 L260.86,-1.45 L259.19,-2.92 M325.53,-23.99 L322.77,-27.44 L319.33,-29.38 L315.62,-29.56 L312.08,-27.96 L309.16,-24.79 L307.19,-20.41 L306.42,-15.37 L306.93,-10.26 L308.68,-5.71 L311.44,-2.26 L314.88,-0.32 L318.59,-0.14 L322.12,-1.74 L325.05,-4.91 L327.02,-9.29 L326.90,-11.88 L318.89,-11.88 M333.90,-19.90 L333.90,0.00 M333.90,-12.47 L334.62,-15.32 L336.68,-17.72 L339.77,-19.33 L343.41,-19.90 L345.19,-19.90 M367.40,-14.92 L365.55,-17.57 L363.05,-19.30 L360.20,-19.90 L357.36,-19.30 L354.86,-17.57 L353.00,-14.92 L352.01,-11.68 L352.01,-8.22 L353.00,-4.97 L354.86,-2.33 L357.36,-0.60 L360.20,-0.00 L363.05,-0.60 L365.55,-2.33 L367.40,-4.97 M368.82,-19.90 L368.82,0.00 M376.41,-19.90 L376.41,0.00 M376.41,-13.37 L376.85,-15.60 L378.14,-17.56 L380.12,-19.02 L382.54,-19.80 L385.12,-19.80 L387.54,-19.02 L389.52,-17.56 L390.81,-15.60 L391.26,-13.37 L391.26,0.00 M414.07,-14.92 L412.21,-17.57 L409.71,-19.30 L406.87,-19.90 L404.02,-19.30 L401.52,-17.57 L399.66,-14.92 L398.68,-11.68 L398.68,-8.22 L399.66,-4.97 L401.52,-2.33 L404.02,-0.60 L406.87,-0.00 L409.71,-0.60 L412.21,-2.33 L414.07,-4.97 M415.48,-29.70 L415.48,0.00 M447.42,-29.70 L468.21,-29.70 M457.82,-29.70 L457.82,0.00 M493.92,-9.95 L493.37,-13.35 L491.77,-16.34 L489.32,-18.57 L486.31,-19.75 L483.11,-19.75 L480.11,-18.57 L477.66,-16.34 L476.06,-13.35 L475.51,-9.95 L476.06,-6.55 L477.66,-3.55 L480.11,-1.33 L483.11,-0.15 L486.31,-0.15 L489.32,-1.33 L491.77,-3.55 L493.37,-6.55 L493.92,-9.95 M501.21,-19.90 L501.21,-6.53 L501.66,-4.30 L502.95,-2.33 L504.93,-0.88 L507.35,-0.10 L509.93,-0.10 L512.35,-0.88 L514.33,-2.33 L515.62,-4.30 L516.06,-6.53 M516.06,-19.90 L516.06,0.00 M523.36,-19.90 L523.36,0.00 M523.36,-12.47 L524.08,-15.32 L526.14,-17.72 L529.22,-19.33 L532.86,-19.90 L534.64,-19.90 M565.70,-13.37 L584.11,-13.37 M615.76,-23.76 L618.73,-25.84 L622.29,-28.51 L624.97,-29.70 L624.97,0.00 M660.47,-14.85 L659.22,-22.27 L655.80,-27.71 L651.12,-29.70 L646.44,-27.71 L643.02,-22.27 L641.76,-14.85 L643.02,-7.42 L646.44,-1.99 L651.12,-0.00 L655.80,-1.99 L659.22,-7.42 L660.47,-14.85 M668.36,-23.76 L670.14,-27.62 L673.71,-29.70 L681.13,-29.70 L684.99,-27.62 L686.48,-23.76 L686.48,-19.60 L684.10,-15.44 L667.77,0.00 L686.48,0.00 M718.13,-29.70 L718.13,0.00 M732.98,-19.90 L718.13,-5.94 M723.18,-10.10 L733.57,0.00 M740.27,-19.90 L740.27,0.00 M740.27,-13.37 L740.67,-15.60 L741.83,-17.56 L743.61,-19.02 L745.79,-19.80 L748.11,-19.80 L750.29,-19.02 L752.07,-17.56 L753.23,-15.60 L753.63,-13.37 L753.63,0.00 M753.63,-13.37 L754.04,-15.60 L755.20,-17.56 L756.98,-19.02 L759.16,-19.80 L761.48,-19.80 L763.66,-19.02 L765.44,-17.56 L766.60,-15.60 L767.00,-13.37 L767.00,0.00" fill="none" stroke="#000" stroke-width="1.2" stroke-linecap="round" stroke-linejoin="round"/>
<path transform="translate(91.0,750.8)" d="M0.00,-11.84 L1.48,-12.88 L3.26,-14.21 L4.59,-14.80 L4.59,0.00 M13.99,-14.80 L23.32,-14.80 L16.21,0.00 M36.86,-14.80 L28.87,-14.80 L28.43,-8.29 L30.94,-9.03 L34.64,-9.03 L36.57,-7.99 L37.31,-5.92 L37.31,-2.96 L36.12,-0.74 L34.20,0.00 L30.65,0.00 L28.72,-0.74 L27.98,-2.22 M51.30,-7.40 L50.68,-11.10 L48.97,-13.81 L46.64,-14.80 L44.31,-13.81 L42.60,-11.10 L41.98,-7.40 L42.60,-3.70 L44.31,-0.99 L46.64,-0.00 L48.97,-0.99 L50.68,-3.70 L51.30,-7.40" fill="none" stroke="#ff0000" stroke-width="1.0" stroke-linecap="round" stroke-linejoin="round"/>
<path transform="translate(91.0,787.0)" d="M0.00,-11.84 L1.48,-12.88 L3.26,-14.21 L4.59,-14.80 L4.59,0.00 M22.87,-14.80 L14.88,-14.80 L14.44,-8.29 L16.95,-9.03 L20.65,-9.03 L22.58,-7.99 L23.32,-5.92 L23.32,-2.96 L22.13,-0.74 L20.21,0.00 L16.66,0.00 L14.73,-0.74 L13.99,-2.22 M37.31,-7.40 L36.68,-11.10 L34.98,-13.81 L32.65,-14.80 L30.32,-13.81 L28.61,-11.10 L27.98,-7.40 L28.61,-3.70 L30.32,-0.99 L32.65,-0.00 L34.98,-0.99 L36.68,-3.70 L37.31,-7.40 M51.30,-7.40 L50.68,-11.10 L48.97,-13.81 L46.64,-14.80 L44.31,-13.81 L42.60,-11.10 L41.98,-7.40 L42.60,-3.70 L44.31,-0.99 L46.64,-0.00 L48.97,-0.99 L50.68,-3.70 L51.30,-7.40" fill="none" stroke="#ff0000" stroke-width="1.0" stroke-linecap="round" stroke-linejoin="round"/>
<path transform="translate(91.0,823.5)" d="M0.00,-11.84 L1.48,-12.88 L3.26,-14.21 L4.59,-14.80 L4.59,0.00 M13.99,-11.84 L15.47,-12.88 L17.25,-14.21 L18.58,-14.80 L18.58,0.00 M36.86,-14.80 L28.87,-14.80 L28.43,-8.29 L30.94,-9.03 L34.64,-9.03 L36.57,-7.99 L37.31,-5.92 L37.31,-2.96 L36.12,-0.74 L34.20,0.00 L30.65,0.00 L28.72,-0.74 L27.98,-2.22 M51.30,-7.40 L50.68,-11.10 L48.97,-13.81 L46.64,-14.80 L44.31,-13.81 L42.60,-11.10 L41.98,-7.40 L42.60,-3.70 L44.31,-0.99 L46.64,-0.00 L48.97,-0.99 L50.68,-3.70 L51.30,-7.40" fill="none" stroke="#ff0000" stroke-width="1.0" stroke-linecap="round" stroke-linejoin="round"/>
<path transform="translate(91.0,862.0)" d="M8.66,-11.40 L8.12,-13.10 L6.66,-14.34 L4.66,-14.80 L2.66,-14.34 L1.20,-13.10 L0.67,-11.40 L1.20,-9.69 L2.66,-8.45 L4.66,-7.99 L6.66,-8.45 L8.12,-9.69 L8.66,-11.40 M9.32,-4.00 L8.70,-5.99 L6.99,-7.46 L4.66,-7.99 L2.33,-7.46 L0.62,-5.99 L0.00,-4.00 L0.62,-2.00 L2.33,-0.54 L4.66,-0.00 L6.99,-0.54 L8.70,-2.00 L9.32,-4.00 M23.37,-14.80 L15.38,-14.80 L14.93,-8.29 L17.45,-9.03 L21.15,-9.03 L23.07,-7.99 L23.81,-5.92 L23.81,-2.96 L22.63,-0.74 L20.70,0.00 L17.15,0.00 L15.23,-0.74 L14.49,-2.22 M38.30,-7.40 L37.68,-11.10 L35.97,-13.81 L33.64,-14.80 L31.31,-13.81 L29.60,-11.10 L28.98,-7.40 L29.60,-3.70 L31.31,-0.99 L33.64,-0.00 L35.97,-0.99 L37.68,-3.70 L38.30,-7.40" fill="none" stroke="#ff0000" stroke-width="1.0" stroke-linecap="round" stroke-linejoin="round"/>
<path transform="translate(91.0,895.6)" d="M8.58,-13.76 L6.66,-14.80 L3.26,-14.80 L1.18,-13.32 L0.00,-10.36 L0.00,-4.44 L0.89,-1.18 L2.96,0.00 L6.36,0.00 L8.58,-1.18 L9.32,-4.14 L8.88,-6.66 L6.66,-8.58 L2.96,-8.58 L0.89,-7.10 L0.00,-5.18 M14.78,-11.84 L15.67,-13.76 L17.45,-14.80 L21.15,-14.80 L23.07,-13.76 L23.81,-11.84 L23.81,-9.77 L22.63,-7.70 L14.49,0.00 L23.81,0.00 M37.86,-14.80 L29.86,-14.80 L29.42,-8.29 L31.94,-9.03 L35.64,-9.03 L37.56,-7.99 L38.30,-5.92 L38.30,-2.96 L37.12,-0.74 L35.19,0.00 L31.64,0.00 L29.72,-0.74 L28.98,-2.22" fill="none" stroke="#ff0000" stroke-width="1.0" stroke-linecap="round" stroke-linejoin="round"/>
<text x="225.1" y="941.0" font-size="19.5" font-family="Liberation Sans, sans-serif" font-weight="bold" fill="#0040ff" textLength="53.5" lengthAdjust="spacingAndGlyphs" style="white-space:pre" >13  km</text>
<text x="503.8" y="941.0" font-size="19.5" font-family="Liberation Sans, sans-serif" font-weight="bold" fill="#0040ff" textLength="52.7" lengthAdjust="spacingAndGlyphs" style="white-space:pre" >10  km</text>
<text x="677.6" y="941.0" font-size="19.5" font-family="Liberation Sans, sans-serif" font-weight="bold" fill="#0040ff" textLength="44.6" lengthAdjust="spacingAndGlyphs" style="white-space:pre" >8  km</text>
<text x="845.3" y="941.0" font-size="19.5" font-family="Liberation Sans, sans-serif" font-weight="bold" fill="#0040ff" textLength="44.6" lengthAdjust="spacingAndGlyphs" style="white-space:pre" >9  km</text>
<text x="1079.6" y="941.0" font-size="19.5" font-family="Liberation Sans, sans-serif" font-weight="bold" fill="#0040ff" textLength="54.4" lengthAdjust="spacingAndGlyphs" style="white-space:pre" >16  km</text>
<text x="1323.5" y="941.0" font-size="19.5" font-family="Liberation Sans, sans-serif" font-weight="bold" fill="#0040ff" textLength="53.4" lengthAdjust="spacingAndGlyphs" style="white-space:pre" >10  km</text>
<text x="1559.2" y="941.0" font-size="19.5" font-family="Liberation Sans, sans-serif" font-weight="bold" fill="#0040ff" textLength="53.8" lengthAdjust="spacingAndGlyphs" style="white-space:pre" >15  km</text>
<text x="1844.9" y="941.0" font-size="19.5" font-family="Liberation Sans, sans-serif" font-weight="bold" fill="#0040ff" textLength="53.3" lengthAdjust="spacingAndGlyphs" style="white-space:pre" >15  km</text>
<text x="2084.8" y="941.0" font-size="19.5" font-family="Liberation Sans, sans-serif" font-weight="bold" fill="#0040ff" textLength="45.0" lengthAdjust="spacingAndGlyphs" style="white-space:pre" >6  km</text>
<text x="392.7" y="972.7" font-size="18.0" font-family="Liberation Sans, sans-serif" font-weight="bold" fill="#0040ff" textLength="50.2" lengthAdjust="spacingAndGlyphs" style="white-space:pre" >13  km</text>
<text x="602.5" y="972.7" font-size="18.0" font-family="Liberation Sans, sans-serif" font-weight="bold" fill="#0040ff" textLength="52.2" lengthAdjust="spacingAndGlyphs" style="white-space:pre" >23  km</text>
<text x="758.6" y="972.7" font-size="18.0" font-family="Liberation Sans, sans-serif" font-weight="bold" fill="#0040ff" textLength="51.8" lengthAdjust="spacingAndGlyphs" style="white-space:pre" >31  km</text>
<text x="948.0" y="972.7" font-size="18.0" font-family="Liberation Sans, sans-serif" font-weight="bold" fill="#0040ff" textLength="41.0" lengthAdjust="spacingAndGlyphs" style="white-space:pre" >40km</text>
<text x="1228.1" y="972.7" font-size="18.0" font-family="Liberation Sans, sans-serif" font-weight="bold" fill="#0040ff" textLength="42.0" lengthAdjust="spacingAndGlyphs" style="white-space:pre" >58km</text>
<text x="1419.8" y="972.7" font-size="18.0" font-family="Liberation Sans, sans-serif" font-weight="bold" fill="#0040ff" textLength="42.0" lengthAdjust="spacingAndGlyphs" style="white-space:pre" >66km</text>
<text x="1704.9" y="972.7" font-size="18.0" font-family="Liberation Sans, sans-serif" font-weight="bold" fill="#0040ff" textLength="51.8" lengthAdjust="spacingAndGlyphs" style="white-space:pre" >801km</text>
<text x="2001.0" y="972.7" font-size="18.0" font-family="Liberation Sans, sans-serif" font-weight="bold" fill="#0040ff" textLength="42.7" lengthAdjust="spacingAndGlyphs" style="white-space:pre" >96km</text>
<text x="2174.0" y="972.7" font-size="18.0" font-family="Liberation Sans, sans-serif" font-weight="bold" fill="#0040ff" textLength="49.8" lengthAdjust="spacingAndGlyphs" style="white-space:pre" >102km</text>
<text x="120.9" y="1016.6" font-size="18.9" font-family="Liberation Sans, sans-serif" font-weight="bold" fill="#0040ff" textLength="78.8" lengthAdjust="spacingAndGlyphs" style="white-space:pre" >FERRIERE</text>
<text x="378.7" y="1014.5" font-size="18.9" font-family="Liberation Sans, sans-serif" font-weight="bold" fill="#0040ff" textLength="52.3" lengthAdjust="spacingAndGlyphs" style="white-space:pre" >PRATO</text>
<text x="378.4" y="1030.2" font-size="18.9" font-family="Liberation Sans, sans-serif" font-weight="bold" fill="#0040ff" textLength="65.2" lengthAdjust="spacingAndGlyphs" style="white-space:pre" >GRANDE</text>
<text x="591.1" y="1014.5" font-size="18.9" font-family="Liberation Sans, sans-serif" font-weight="bold" fill="#0040ff" textLength="54.5" lengthAdjust="spacingAndGlyphs" style="white-space:pre" >MONTE</text>
<text x="591.1" y="1028.7" font-size="18.9" font-family="Liberation Sans, sans-serif" font-weight="bold" fill="#0040ff" textLength="32.7" lengthAdjust="spacingAndGlyphs" style="white-space:pre" >BUE</text>
<text x="746.6" y="1014.5" font-size="18.9" font-family="Liberation Sans, sans-serif" font-weight="bold" fill="#0040ff" textLength="63.8" lengthAdjust="spacingAndGlyphs" style="white-space:pre" >RIFUGIO</text>
<text x="746.6" y="1028.7" font-size="18.9" font-family="Liberation Sans, sans-serif" font-weight="bold" fill="#0040ff" textLength="41.0" lengthAdjust="spacingAndGlyphs" style="white-space:pre" >GAEP</text>
<text x="969.4" y="1016.7" font-size="18.9" font-family="Liberation Sans, sans-serif" font-weight="bold" fill="#0040ff" textLength="35.9" lengthAdjust="spacingAndGlyphs" style="white-space:pre" >LOC.</text>
<text x="962.9" y="1034.1" font-size="18.9" font-family="Liberation Sans, sans-serif" font-weight="bold" fill="#0040ff" textLength="79.5" lengthAdjust="spacingAndGlyphs" style="white-space:pre" >RUFFINATI</text>
<text x="1217.9" y="1016.7" font-size="18.9" font-family="Liberation Sans, sans-serif" font-weight="bold" fill="#0040ff" textLength="35.9" lengthAdjust="spacingAndGlyphs" style="white-space:pre" >LOC.</text>
<text x="1216.4" y="1034.6" font-size="18.9" font-family="Liberation Sans, sans-serif" font-weight="bold" fill="#0040ff" textLength="89.2" lengthAdjust="spacingAndGlyphs" style="white-space:pre" >CERIGNALE</text>
<text x="1413.2" y="1016.7" font-size="18.9" font-family="Liberation Sans, sans-serif" font-weight="bold" fill="#0040ff" textLength="52.9" lengthAdjust="spacingAndGlyphs" style="white-space:pre" >PONTE</text>
<text x="1413.2" y="1036.3" font-size="18.9" font-family="Liberation Sans, sans-serif" font-weight="bold" fill="#0040ff" textLength="69.3" lengthAdjust="spacingAndGlyphs" style="white-space:pre" >LENZINO</text>
<text x="1699.0" y="1016.7" font-size="18.9" font-family="Liberation Sans, sans-serif" font-weight="bold" fill="#0040ff" textLength="35.9" lengthAdjust="spacingAndGlyphs" style="white-space:pre" >LOC.</text>
<text x="1699.0" y="1036.3" font-size="18.9" font-family="Liberation Sans, sans-serif" font-weight="bold" fill="#0040ff" textLength="88.8" lengthAdjust="spacingAndGlyphs" style="white-space:pre" >MARSAGLIA</text>
<text x="1994.9" y="1016.3" font-size="18.9" font-family="Liberation Sans, sans-serif" font-weight="bold" fill="#0040ff" textLength="54.1" lengthAdjust="spacingAndGlyphs" style="white-space:pre" >PASSO</text>
<text x="1993.4" y="1036.8" font-size="18.9" font-family="Liberation Sans, sans-serif" font-weight="bold" fill="#0040ff" textLength="82.3" lengthAdjust="spacingAndGlyphs" style="white-space:pre" >ALBARETO</text>
<text x="2159.2" y="1016.3" font-size="18.9" font-family="Liberation Sans, sans-serif" font-weight="bold" fill="#0040ff" textLength="77.3" lengthAdjust="spacingAndGlyphs" style="white-space:pre" >FERRIERE</text>
<path transform="translate(1208.7,1051.1)" d="M0.00,-11.50 L0.00,-8.97 M2.30,-11.50 L2.30,-8.97 M5.94,-6.10 L5.94,-11.50 L10.54,-11.50 L10.54,-11.50 L11.40,-11.34 L12.17,-10.87 L12.73,-10.15 L13.03,-9.27 L13.03,-8.33 L12.73,-7.45 L12.17,-6.73 L11.40,-6.26 L10.54,-6.10 L5.94,-6.10 M5.94,-6.10 L10.77,-6.10 L10.77,-6.10 L11.71,-5.91 L12.54,-5.38 L13.16,-4.57 L13.49,-3.58 L13.49,-2.52 L13.16,-1.52 L12.54,-0.71 L11.71,-0.18 L10.77,-0.00 L5.94,0.00 L5.94,-6.10 M16.71,0.00 L20.85,-11.50 L24.99,0.00 M18.09,-3.91 L23.61,-3.91 M35.47,-9.51 L34.87,-10.43 L33.92,-11.11 L32.73,-11.46 L31.47,-11.44 L30.31,-11.04 L29.40,-10.31 L28.86,-9.37 L28.76,-8.32 L29.12,-7.32 L29.88,-6.49 L30.96,-5.94 L32.19,-5.75 L32.19,-5.75 L33.46,-5.56 L34.56,-5.02 L35.35,-4.20 L35.73,-3.21 L35.65,-2.17 L35.11,-1.23 L34.19,-0.50 L33.01,-0.08 L31.73,-0.02 L30.50,-0.34 L29.49,-1.00 L28.84,-1.89 M46.07,-11.50 L39.40,-11.50 L39.40,0.00 L46.07,0.00 M39.40,-5.98 L44.00,-5.98 M59.13,-11.50 L63.27,0.00 L67.41,-11.50 M71.05,-11.50 L71.05,0.00 M74.69,-11.50 L82.74,-11.50 M78.72,-11.50 L78.72,0.00 M86.38,0.00 L90.52,-11.50 L94.66,0.00 M87.76,-3.91 L93.28,-3.91 M98.30,-11.50 L98.30,-8.97 M100.60,-11.50 L100.60,-8.97" fill="none" stroke="#ff0000" stroke-width="1.0" stroke-linecap="round" stroke-linejoin="round"/>
<circle cx="769.3" cy="570.1" r="18" fill="none" stroke="#ff0000" stroke-width="2"/>
<path transform="translate(757.8,577.8)" d="M0.00,-15.70 L10.99,-15.70 M5.49,-15.70 L5.49,0.00 M15.43,-12.56 L17.00,-13.66 L18.89,-15.07 L20.30,-15.70 L20.30,0.00" fill="none" stroke="#ff0000" stroke-width="1.0" stroke-linecap="round" stroke-linejoin="round"/>
<circle cx="1240.5" cy="520.3" r="18" fill="none" stroke="#ff0000" stroke-width="2"/>
<path transform="translate(1229.8,528.0)" d="M0.00,-15.70 L10.99,-15.70 M5.49,-15.70 L5.49,0.00 M13.62,-12.56 L14.57,-14.60 L16.45,-15.70 L20.37,-15.70 L22.42,-14.60 L23.20,-12.56 L23.20,-10.36 L21.94,-8.16 L13.31,0.00 L23.20,0.00" fill="none" stroke="#ff0000" stroke-width="1.0" stroke-linecap="round" stroke-linejoin="round"/>
<circle cx="1715" cy="521.6" r="18" fill="none" stroke="#ff0000" stroke-width="2"/>
<path transform="translate(1704.0,529.3)" d="M0.00,-15.70 L10.99,-15.70 M5.49,-15.70 L5.49,0.00 M14.24,-15.70 L23.03,-15.70 L18.00,-9.42 L19.89,-9.42 L22.40,-8.48 L23.50,-5.97 L23.50,-3.14 L22.09,-0.63 L19.89,0.00 L16.75,0.00 L14.55,-0.79 L13.61,-2.20" fill="none" stroke="#ff0000" stroke-width="1.0" stroke-linecap="round" stroke-linejoin="round"/>
<rect x="521.9" y="1137.8" width="46.8" height="51.8" fill="#fff" stroke="#000" stroke-width="1.2"/>
<use href="#gV" transform="translate(521.3,1137.2) scale(1.28)"/>
<rect x="520.1" y="1214.0" width="46.8" height="51.8" fill="#fff" stroke="#000" stroke-width="1.2"/>
<use href="#gW" transform="translate(519.5,1213.4) scale(1.28)"/>
<rect x="835.8" y="1147.0" width="46.8" height="51.8" fill="#fff" stroke="#000" stroke-width="1.2"/>
<use href="#gR" transform="translate(835.2,1146.4) scale(1.28)"/>
<rect x="835.8" y="1219.8" width="46.8" height="51.8" fill="#fff" stroke="#000" stroke-width="1.2"/>
<use href="#gC" transform="translate(835.2,1219.2) scale(1.28)"/>
<path transform="translate(589.7,1174.6)" d="M0.00,-19.50 L7.02,0.00 L14.04,-19.50 M17.82,-6.44 L29.52,-6.44 L29.52,-6.53 L29.16,-8.80 L28.11,-10.79 L26.51,-12.24 L24.56,-12.99 L22.50,-12.93 L20.58,-12.08 L19.05,-10.54 L18.09,-8.50 L17.83,-6.21 L18.29,-3.97 L19.42,-2.04 L21.09,-0.67 L23.07,-0.04 L25.12,-0.20 L27.00,-1.16 L28.46,-2.79 M35.65,-19.50 L35.65,-2.34 L35.65,-2.34 L35.85,-1.44 L36.44,-0.69 L37.33,-0.18 L38.38,-0.00 L40.71,0.00 M33.30,-13.07 L40.71,-13.07 M46.84,-19.50 L46.84,-2.34 L46.84,-2.34 L47.05,-1.44 L47.64,-0.69 L48.52,-0.18 L49.57,-0.00 L51.91,0.00 M44.50,-13.07 L51.91,-13.07 M65.88,-9.80 L64.66,-11.54 L63.02,-12.67 L61.15,-13.07 L59.28,-12.67 L57.64,-11.54 L56.42,-9.80 L55.77,-7.67 L55.77,-5.40 L56.42,-3.27 L57.64,-1.53 L59.28,-0.39 L61.15,-0.00 L63.02,-0.39 L64.66,-1.53 L65.88,-3.27 M66.80,-13.07 L66.80,0.00" fill="none" stroke="#000" stroke-width="1.0" stroke-linecap="round" stroke-linejoin="round"/>
<path transform="translate(587.1,1250.8)" d="M0.00,0.00 L0.00,-18.70 L7.48,-18.70 L7.48,-18.70 L8.89,-18.43 L10.12,-17.65 L11.04,-16.46 L11.53,-14.99 L11.53,-13.43 L11.04,-11.97 L10.12,-10.77 L8.89,-9.99 L7.48,-9.72 L0.00,-9.72 M17.69,-12.53 L17.69,-4.11 L17.97,-2.71 L18.78,-1.47 L20.02,-0.55 L21.55,-0.06 L23.17,-0.06 L24.70,-0.55 L25.94,-1.47 L26.75,-2.71 L27.04,-4.11 M27.04,-12.53 L27.04,0.00 M33.13,-12.53 L33.13,0.00 M33.13,-8.42 L33.41,-9.82 L34.22,-11.06 L35.46,-11.98 L36.99,-12.47 L38.61,-12.47 L40.14,-11.98 L41.38,-11.06 L42.19,-9.82 L42.48,-8.42 L42.48,0.00 M50.81,-18.70 L50.81,-2.24 L50.81,-2.24 L51.01,-1.39 L51.58,-0.66 L52.43,-0.17 L53.43,-0.00 L55.67,0.00 M48.57,-12.53 L55.67,-12.53 M73.36,-6.26 L73.01,-8.41 L72.00,-10.29 L70.46,-11.69 L68.57,-12.43 L66.55,-12.43 L64.66,-11.69 L63.12,-10.29 L62.11,-8.41 L61.76,-6.26 L62.11,-4.12 L63.12,-2.24 L64.66,-0.84 L66.55,-0.10 L68.57,-0.10 L70.46,-0.84 L72.00,-2.24 L73.01,-4.12 L73.36,-6.26 M94.78,0.00 L101.52,-18.70 L108.25,0.00 M97.03,-6.36 L106.00,-6.36 M124.58,-10.29 L123.03,-11.69 L121.14,-12.43 L119.13,-12.43 L117.24,-11.69 L115.69,-10.29 L114.69,-8.41 L114.34,-6.26 L114.69,-4.12 L115.69,-2.24 L117.24,-0.84 L119.13,-0.10 L121.14,-0.10 L123.03,-0.84 L124.58,-2.24 M141.05,-9.40 L139.88,-11.06 L138.30,-12.15 L136.51,-12.53 L134.72,-12.15 L133.15,-11.06 L131.98,-9.40 L131.36,-7.35 L131.36,-5.18 L131.98,-3.13 L133.15,-1.47 L134.72,-0.38 L136.51,-0.00 L138.30,-0.38 L139.88,-1.47 L141.05,-3.13 M141.93,-12.53 L141.93,6.17 M148.21,-12.53 L148.21,-4.11 L148.49,-2.71 L149.31,-1.47 L150.55,-0.55 L152.08,-0.06 L153.70,-0.06 L155.23,-0.55 L156.47,-1.47 L157.28,-2.71 L157.56,-4.11 M157.56,-12.53 L157.56,0.00 M173.42,-9.40 L172.26,-11.06 L170.68,-12.15 L168.89,-12.53 L167.10,-12.15 L165.52,-11.06 L164.36,-9.40 L163.73,-7.35 L163.73,-5.18 L164.36,-3.13 L165.52,-1.47 L167.10,-0.38 L168.89,-0.00 L170.68,-0.38 L172.26,-1.47 L173.42,-3.13 M174.31,-12.53 L174.31,0.00" fill="none" stroke="#000" stroke-width="1.0" stroke-linecap="round" stroke-linejoin="round"/>
<path transform="translate(902.4,1183.2)" d="M0.00,0.00 L0.00,-19.50 L7.80,-19.50 L7.80,-19.50 L9.27,-19.22 L10.56,-18.41 L11.52,-17.16 L12.02,-15.63 L12.02,-14.01 L11.52,-12.48 L10.56,-11.23 L9.27,-10.42 L7.80,-10.14 L0.00,-10.14 M6.63,-10.14 L12.09,0.00 M17.33,-13.07 L17.33,0.00 M17.33,-18.52 L17.33,-17.55 M32.80,-11.21 L31.71,-12.14 L30.14,-12.78 L28.29,-13.06 L26.40,-12.93 L24.71,-12.41 L23.42,-11.58 L22.70,-10.52 L22.64,-9.38 L23.24,-8.30 L24.44,-7.41 L26.07,-6.83 L27.94,-6.63 L27.94,-6.63 L29.81,-6.42 L31.45,-5.82 L32.64,-4.91 L33.25,-3.80 L33.19,-2.62 L32.46,-1.53 L31.18,-0.67 L29.48,-0.14 L27.59,-0.01 L25.75,-0.29 L24.18,-0.95 L23.08,-1.91 M40.89,-19.50 L40.89,-2.34 L40.89,-2.34 L41.10,-1.44 L41.69,-0.69 L42.57,-0.18 L43.62,-0.00 L45.96,0.00 M38.55,-13.07 L45.96,-13.07 M63.29,-6.53 L62.93,-8.77 L61.88,-10.73 L60.27,-12.19 L58.30,-12.97 L56.20,-12.97 L54.23,-12.19 L52.62,-10.73 L51.57,-8.77 L51.20,-6.53 L51.57,-4.30 L52.62,-2.33 L54.23,-0.88 L56.20,-0.10 L58.30,-0.10 L60.27,-0.88 L61.88,-2.33 L62.93,-4.30 L63.29,-6.53 M68.54,-13.07 L68.54,0.00 M68.54,-8.19 L69.01,-10.06 L70.37,-11.64 L72.39,-12.69 L74.78,-13.06 L75.95,-13.07 M92.89,-6.53 L92.53,-8.77 L91.48,-10.73 L89.87,-12.19 L87.90,-12.97 L85.80,-12.97 L83.83,-12.19 L82.22,-10.73 L81.17,-8.77 L80.80,-6.53 L81.17,-4.30 L82.22,-2.33 L83.83,-0.88 L85.80,-0.10 L87.90,-0.10 L89.87,-0.88 L91.48,-2.33 L92.53,-4.30 L92.89,-6.53 M124.80,-10.73 L123.20,-12.19 L121.22,-12.97 L119.12,-12.97 L117.15,-12.19 L115.54,-10.73 L114.49,-8.77 L114.13,-6.53 L114.49,-4.30 L115.54,-2.33 L117.15,-0.88 L119.12,-0.10 L121.22,-0.10 L123.20,-0.88 L124.80,-2.33 M142.77,-6.53 L142.41,-8.77 L141.36,-10.73 L139.75,-12.19 L137.78,-12.97 L135.68,-12.97 L133.70,-12.19 L132.10,-10.73 L131.05,-8.77 L130.68,-6.53 L131.05,-4.30 L132.10,-2.33 L133.70,-0.88 L135.68,-0.10 L137.78,-0.10 L139.75,-0.88 L141.36,-2.33 L142.41,-4.30 L142.77,-6.53 M148.02,-13.07 L148.02,0.00 M148.02,-8.78 L148.28,-10.24 L149.04,-11.53 L150.21,-12.49 L151.64,-13.00 L153.17,-13.00 L154.60,-12.49 L155.77,-11.53 L156.53,-10.24 L156.79,-8.78 L156.79,0.00 M156.79,-8.78 L157.06,-10.24 L157.82,-11.53 L158.99,-12.49 L160.42,-13.00 L161.94,-13.00 L163.37,-12.49 L164.54,-11.53 L165.30,-10.24 L165.57,-8.78 L165.57,0.00 M171.93,-9.80 L173.15,-11.54 L174.79,-12.67 L176.66,-13.07 L178.53,-12.67 L180.17,-11.54 L181.39,-9.80 L182.04,-7.67 L182.04,-5.40 L181.39,-3.27 L180.17,-1.53 L178.53,-0.39 L176.66,-0.00 L174.79,-0.39 L173.15,-1.53 L171.93,-3.27 M171.01,-13.07 L171.01,6.44 M187.37,-19.50 L187.37,0.00 M192.61,-6.44 L204.31,-6.44 L204.31,-6.53 L203.95,-8.80 L202.90,-10.79 L201.30,-12.24 L199.35,-12.99 L197.29,-12.93 L195.37,-12.08 L193.84,-10.54 L192.88,-8.50 L192.62,-6.21 L193.08,-3.97 L194.21,-2.04 L195.87,-0.67 L197.86,-0.04 L199.91,-0.20 L201.79,-1.16 L203.25,-2.79 M211.90,-19.50 L211.90,-2.34 L211.90,-2.34 L212.10,-1.44 L212.69,-0.69 L213.58,-0.18 L214.63,-0.00 L216.97,0.00 M209.56,-13.07 L216.97,-13.07 M234.30,-6.53 L233.94,-8.77 L232.89,-10.73 L231.28,-12.19 L229.30,-12.97 L227.21,-12.97 L225.23,-12.19 L223.62,-10.73 L222.57,-8.77 L222.21,-6.53 L222.57,-4.30 L223.62,-2.33 L225.23,-0.88 L227.21,-0.10 L229.30,-0.10 L231.28,-0.88 L232.89,-2.33 L233.94,-4.30 L234.30,-6.53" fill="none" stroke="#000" stroke-width="1.0" stroke-linecap="round" stroke-linejoin="round"/>
<path transform="translate(902.4,1256.5)" d="M0.00,0.00 L0.00,-19.50 L7.80,-19.50 L7.80,-19.50 L9.27,-19.22 L10.56,-18.41 L11.52,-17.16 L12.02,-15.63 L12.02,-14.01 L11.52,-12.48 L10.56,-11.23 L9.27,-10.42 L7.80,-10.14 L0.00,-10.14 M6.63,-10.14 L12.09,0.00 M17.47,-13.07 L17.47,0.00 M17.47,-18.52 L17.47,-17.55 M33.07,-11.21 L31.97,-12.14 L30.41,-12.78 L28.56,-13.06 L26.67,-12.93 L24.98,-12.41 L23.69,-11.58 L22.97,-10.52 L22.90,-9.38 L23.51,-8.30 L24.70,-7.41 L26.34,-6.83 L28.21,-6.63 L28.21,-6.63 L30.08,-6.42 L31.72,-5.82 L32.91,-4.91 L33.52,-3.80 L33.45,-2.62 L32.73,-1.53 L31.44,-0.67 L29.75,-0.14 L27.86,-0.01 L26.01,-0.29 L24.45,-0.95 L23.35,-1.91 M41.29,-19.50 L41.29,-2.34 L41.29,-2.34 L41.50,-1.44 L42.09,-0.69 L42.98,-0.18 L44.02,-0.00 L46.36,0.00 M38.95,-13.07 L46.36,-13.07 M63.83,-6.53 L63.46,-8.77 L62.42,-10.73 L60.81,-12.19 L58.83,-12.97 L56.73,-12.97 L54.76,-12.19 L53.15,-10.73 L52.10,-8.77 L51.74,-6.53 L52.10,-4.30 L53.15,-2.33 L54.76,-0.88 L56.73,-0.10 L58.83,-0.10 L60.81,-0.88 L62.42,-2.33 L63.46,-4.30 L63.83,-6.53 M69.21,-13.07 L69.21,0.00 M69.21,-8.19 L69.68,-10.06 L71.04,-11.64 L73.06,-12.69 L75.45,-13.06 L76.62,-13.07 M93.70,-6.53 L93.33,-8.77 L92.28,-10.73 L90.67,-12.19 L88.70,-12.97 L86.60,-12.97 L84.63,-12.19 L83.02,-10.73 L81.97,-8.77 L81.61,-6.53 L81.97,-4.30 L83.02,-2.33 L84.63,-0.88 L86.60,-0.10 L88.70,-0.10 L90.67,-0.88 L92.28,-2.33 L93.33,-4.30 L93.70,-6.53 M125.74,-10.73 L124.13,-12.19 L122.16,-12.97 L120.06,-12.97 L118.09,-12.19 L116.48,-10.73 L115.43,-8.77 L115.07,-6.53 L115.43,-4.30 L116.48,-2.33 L118.09,-0.88 L120.06,-0.10 L122.16,-0.10 L124.13,-0.88 L125.74,-2.33 M141.94,-9.80 L140.72,-11.54 L139.08,-12.67 L137.21,-13.07 L135.35,-12.67 L133.70,-11.54 L132.49,-9.80 L131.84,-7.67 L131.84,-5.40 L132.49,-3.27 L133.70,-1.53 L135.35,-0.39 L137.21,-0.00 L139.08,-0.39 L140.72,-1.53 L141.94,-3.27 M142.87,-13.07 L142.87,0.00 M148.44,-19.50 L148.44,0.00 M164.01,-9.80 L162.79,-11.54 L161.15,-12.67 L159.28,-13.07 L157.41,-12.67 L155.77,-11.54 L154.55,-9.80 L153.90,-7.67 L153.90,-5.40 L154.55,-3.27 L155.77,-1.53 L157.41,-0.39 L159.28,-0.00 L161.15,-0.39 L162.79,-1.53 L164.01,-3.27 M164.94,-19.50 L164.94,0.00 M182.60,-6.53 L182.24,-8.77 L181.19,-10.73 L179.58,-12.19 L177.60,-12.97 L175.51,-12.97 L173.53,-12.19 L171.92,-10.73 L170.87,-8.77 L170.51,-6.53 L170.87,-4.30 L171.92,-2.33 L173.53,-0.88 L175.51,-0.10 L177.60,-0.10 L179.58,-0.88 L181.19,-2.33 L182.24,-4.30 L182.60,-6.53" fill="none" stroke="#000" stroke-width="1.0" stroke-linecap="round" stroke-linejoin="round"/>
<path transform="translate(1337.2,1178.4)" d="M0.00,-19.50 L13.65,-19.50 M6.82,-19.50 L6.82,0.00 M18.30,-13.07 L18.30,0.00 M18.30,-8.19 L18.78,-10.06 L20.13,-11.64 L22.15,-12.69 L24.54,-13.06 L25.71,-13.07 M40.16,-9.80 L38.94,-11.54 L37.30,-12.67 L35.43,-13.07 L33.57,-12.67 L31.93,-11.54 L30.71,-9.80 L30.06,-7.67 L30.06,-5.40 L30.71,-3.27 L31.93,-1.53 L33.57,-0.39 L35.43,-0.00 L37.30,-0.39 L38.94,-1.53 L40.16,-3.27 M41.09,-13.07 L41.09,0.00 M48.28,-19.50 L48.28,-2.34 L48.28,-2.34 L48.48,-1.44 L49.08,-0.69 L49.96,-0.18 L51.01,-0.00 L53.35,0.00 M45.94,-13.07 L53.35,-13.07 M60.34,-19.50 L60.34,-2.34 L60.34,-2.34 L60.55,-1.44 L61.14,-0.69 L62.02,-0.18 L63.07,-0.00 L65.41,0.00 M58.00,-13.07 L65.41,-13.07 M82.15,-6.53 L81.79,-8.77 L80.74,-10.73 L79.13,-12.19 L77.16,-12.97 L75.06,-12.97 L73.08,-12.19 L71.48,-10.73 L70.43,-8.77 L70.06,-6.53 L70.43,-4.30 L71.48,-2.33 L73.08,-0.88 L75.06,-0.10 L77.16,-0.10 L79.13,-0.88 L80.74,-2.33 L81.79,-4.30 L82.15,-6.53 M103.92,-9.80 L105.13,-11.54 L106.78,-12.67 L108.64,-13.07 L110.51,-12.67 L112.15,-11.54 L113.37,-9.80 L114.02,-7.67 L114.02,-5.40 L113.37,-3.27 L112.15,-1.53 L110.51,-0.39 L108.64,-0.00 L106.78,-0.39 L105.13,-1.53 L103.92,-3.27 M102.99,-13.07 L102.99,6.44 M118.76,-6.44 L130.46,-6.44 L130.46,-6.53 L130.09,-8.80 L129.05,-10.79 L127.45,-12.24 L125.50,-12.99 L123.43,-12.93 L121.52,-12.08 L119.98,-10.54 L119.03,-8.50 L118.76,-6.21 L119.23,-3.97 L120.36,-2.04 L122.02,-0.67 L124.00,-0.04 L126.06,-0.20 L127.94,-1.16 L129.40,-2.79 M135.11,-13.07 L135.11,0.00 M135.11,-8.19 L135.58,-10.06 L136.94,-11.64 L138.96,-12.69 L141.35,-13.06 L142.52,-13.07 M146.78,-13.07 L146.78,0.00 M146.78,-18.52 L146.78,-17.55 M162.11,-10.73 L160.50,-12.19 L158.53,-12.97 L156.43,-12.97 L154.46,-12.19 L152.85,-10.73 L151.80,-8.77 L151.43,-6.53 L151.80,-4.30 L152.85,-2.33 L154.46,-0.88 L156.43,-0.10 L158.53,-0.10 L160.50,-0.88 L162.11,-2.33 M179.49,-6.53 L179.12,-8.77 L178.07,-10.73 L176.46,-12.19 L174.49,-12.97 L172.39,-12.97 L170.42,-12.19 L168.81,-10.73 L167.76,-8.77 L167.40,-6.53 L167.76,-4.30 L168.81,-2.33 L170.42,-0.88 L172.39,-0.10 L174.49,-0.10 L176.46,-0.88 L178.07,-2.33 L179.12,-4.30 L179.49,-6.53 M184.14,-19.50 L184.14,0.00 M200.88,-6.53 L200.52,-8.77 L199.47,-10.73 L197.86,-12.19 L195.89,-12.97 L193.79,-12.97 L191.81,-12.19 L190.20,-10.73 L189.15,-8.77 L188.79,-6.53 L189.15,-4.30 L190.20,-2.33 L191.81,-0.88 L193.79,-0.10 L195.89,-0.10 L197.86,-0.88 L199.47,-2.33 L200.52,-4.30 L200.88,-6.53 M215.76,-11.21 L214.66,-12.14 L213.09,-12.78 L211.25,-13.06 L209.36,-12.93 L207.66,-12.41 L206.37,-11.58 L205.65,-10.52 L205.59,-9.38 L206.19,-8.30 L207.39,-7.41 L209.02,-6.83 L210.90,-6.63 L210.90,-6.63 L212.77,-6.42 L214.40,-5.82 L215.60,-4.91 L216.20,-3.80 L216.14,-2.62 L215.42,-1.53 L214.13,-0.67 L212.43,-0.14 L210.54,-0.01 L208.70,-0.29 L207.13,-0.95 L206.04,-1.91 M233.00,-6.53 L232.64,-8.77 L231.59,-10.73 L229.98,-12.19 L228.00,-12.97 L225.91,-12.97 L223.93,-12.19 L222.32,-10.73 L221.27,-8.77 L220.91,-6.53 L221.27,-4.30 L222.32,-2.33 L223.93,-0.88 L225.91,-0.10 L228.00,-0.10 L229.98,-0.88 L231.59,-2.33 L232.64,-4.30 L233.00,-6.53" fill="none" stroke="#000" stroke-width="1.0" stroke-linecap="round" stroke-linejoin="round"/>
<path transform="translate(1411.2,1254.6)" d="M0.00,0.00 L0.00,-18.50 L7.40,-18.50 L7.40,-18.50 L8.79,-18.23 L10.02,-17.46 L10.92,-16.28 L11.41,-14.83 L11.41,-13.29 L10.92,-11.84 L10.02,-10.66 L8.79,-9.89 L7.40,-9.62 L0.00,-9.62 M17.81,-12.40 L17.81,-4.07 L18.09,-2.68 L18.89,-1.45 L20.12,-0.55 L21.63,-0.06 L23.24,-0.06 L24.75,-0.55 L25.98,-1.45 L26.78,-2.68 L27.06,-4.07 M27.06,-12.40 L27.06,0.00 M33.40,-12.40 L33.40,0.00 M33.40,-8.33 L33.68,-9.72 L34.48,-10.94 L35.71,-11.85 L37.22,-12.33 L38.83,-12.33 L40.33,-11.85 L41.57,-10.94 L42.37,-9.72 L42.65,-8.33 L42.65,0.00 M51.21,-18.50 L51.21,-2.22 L51.21,-2.22 L51.40,-1.37 L51.96,-0.65 L52.80,-0.17 L53.80,-0.00 L56.02,0.00 M48.99,-12.40 L56.02,-12.40 M73.82,-6.20 L73.48,-8.32 L72.48,-10.18 L70.96,-11.56 L69.09,-12.30 L67.09,-12.30 L65.22,-11.56 L63.70,-10.18 L62.70,-8.32 L62.35,-6.20 L62.70,-4.08 L63.70,-2.21 L65.22,-0.83 L67.09,-0.09 L69.09,-0.09 L70.96,-0.83 L72.48,-2.21 L73.48,-4.08 L73.82,-6.20 M105.00,-9.30 L103.84,-10.95 L102.28,-12.02 L100.51,-12.40 L98.74,-12.02 L97.18,-10.95 L96.03,-9.30 L95.41,-7.27 L95.41,-5.12 L96.03,-3.10 L97.18,-1.45 L98.74,-0.37 L100.51,-0.00 L102.28,-0.37 L103.84,-1.45 L105.00,-3.10 M105.88,-18.50 L105.88,0.00 M112.40,-12.40 L112.40,0.00 M112.40,-17.57 L112.40,-16.65 M144.04,-10.18 L142.51,-11.56 L140.64,-12.30 L138.65,-12.30 L136.78,-11.56 L135.25,-10.18 L134.26,-8.32 L133.91,-6.20 L134.26,-4.08 L135.25,-2.21 L136.78,-0.83 L138.65,-0.09 L140.64,-0.09 L142.51,-0.83 L144.04,-2.21 M162.45,-6.20 L162.10,-8.32 L161.11,-10.18 L159.58,-11.56 L157.71,-12.30 L155.72,-12.30 L153.85,-11.56 L152.32,-10.18 L151.33,-8.32 L150.98,-6.20 L151.33,-4.08 L152.32,-2.21 L153.85,-0.83 L155.72,-0.09 L157.71,-0.09 L159.58,-0.83 L161.11,-2.21 L162.10,-4.08 L162.45,-6.20 M168.79,-12.40 L168.79,0.00 M168.79,-8.33 L169.07,-9.72 L169.87,-10.94 L171.10,-11.85 L172.61,-12.33 L174.22,-12.33 L175.73,-11.85 L176.96,-10.94 L177.76,-9.72 L178.04,-8.33 L178.04,0.00 M186.60,-18.50 L186.60,-2.22 L186.60,-2.22 L186.79,-1.37 L187.36,-0.65 L188.20,-0.17 L189.19,-0.00 L191.41,0.00 M184.38,-12.40 L191.41,-12.40 M197.75,-12.40 L197.75,0.00 M197.75,-7.77 L198.20,-9.54 L199.48,-11.04 L201.40,-12.04 L203.67,-12.39 L204.78,-12.40 M222.21,-6.20 L221.87,-8.32 L220.87,-10.18 L219.35,-11.56 L217.47,-12.30 L215.48,-12.30 L213.61,-11.56 L212.09,-10.18 L211.09,-8.32 L210.74,-6.20 L211.09,-4.08 L212.09,-2.21 L213.61,-0.83 L215.48,-0.09 L217.47,-0.09 L219.35,-0.83 L220.87,-2.21 L221.87,-4.08 L222.21,-6.20 M228.55,-18.50 L228.55,0.00 M234.89,-18.50 L234.89,0.00 M252.70,-6.20 L252.35,-8.32 L251.36,-10.18 L249.83,-11.56 L247.96,-12.30 L245.97,-12.30 L244.10,-11.56 L242.57,-10.18 L241.58,-8.32 L241.23,-6.20 L241.58,-4.08 L242.57,-2.21 L244.10,-0.83 L245.97,-0.09 L247.96,-0.09 L249.83,-0.83 L251.36,-2.21 L252.35,-4.08 L252.70,-6.20" fill="none" stroke="#000" stroke-width="1.0" stroke-linecap="round" stroke-linejoin="round"/>
<circle cx="1257.7" cy="1244.8" r="22.4" fill="none" stroke="#ff0000" stroke-width="2"/>
<path transform="translate(1244.6,1253.5)" d="M0.00,-18.50 L12.95,-18.50 M6.47,-18.50 L6.47,0.00 M18.27,-14.80 L20.12,-16.09 L22.34,-17.76 L24.00,-18.50 L24.00,0.00" fill="none" stroke="#ff0000" stroke-width="1.0" stroke-linecap="round" stroke-linejoin="round"/>
<circle cx="1316.5" cy="1244.8" r="22.4" fill="none" stroke="#ff0000" stroke-width="2"/>
<path transform="translate(1302.4,1253.5)" d="M0.00,-18.50 L12.95,-18.50 M6.47,-18.50 L6.47,0.00 M17.01,-14.80 L18.12,-17.21 L20.34,-18.50 L24.97,-18.50 L27.37,-17.21 L28.30,-14.80 L28.30,-12.21 L26.82,-9.62 L16.64,0.00 L28.30,0.00" fill="none" stroke="#ff0000" stroke-width="1.0" stroke-linecap="round" stroke-linejoin="round"/>
<circle cx="1374.9" cy="1244.8" r="22.4" fill="none" stroke="#ff0000" stroke-width="2"/>
<path transform="translate(1361.2,1253.5)" d="M0.00,-18.50 L12.95,-18.50 M6.47,-18.50 L6.47,0.00 M17.38,-18.50 L27.74,-18.50 L21.82,-11.10 L24.04,-11.10 L27.00,-9.99 L28.30,-7.03 L28.30,-3.70 L26.63,-0.74 L24.04,0.00 L20.34,0.00 L17.75,-0.93 L16.64,-2.59" fill="none" stroke="#ff0000" stroke-width="1.0" stroke-linecap="round" stroke-linejoin="round"/>
</svg></body></html>
